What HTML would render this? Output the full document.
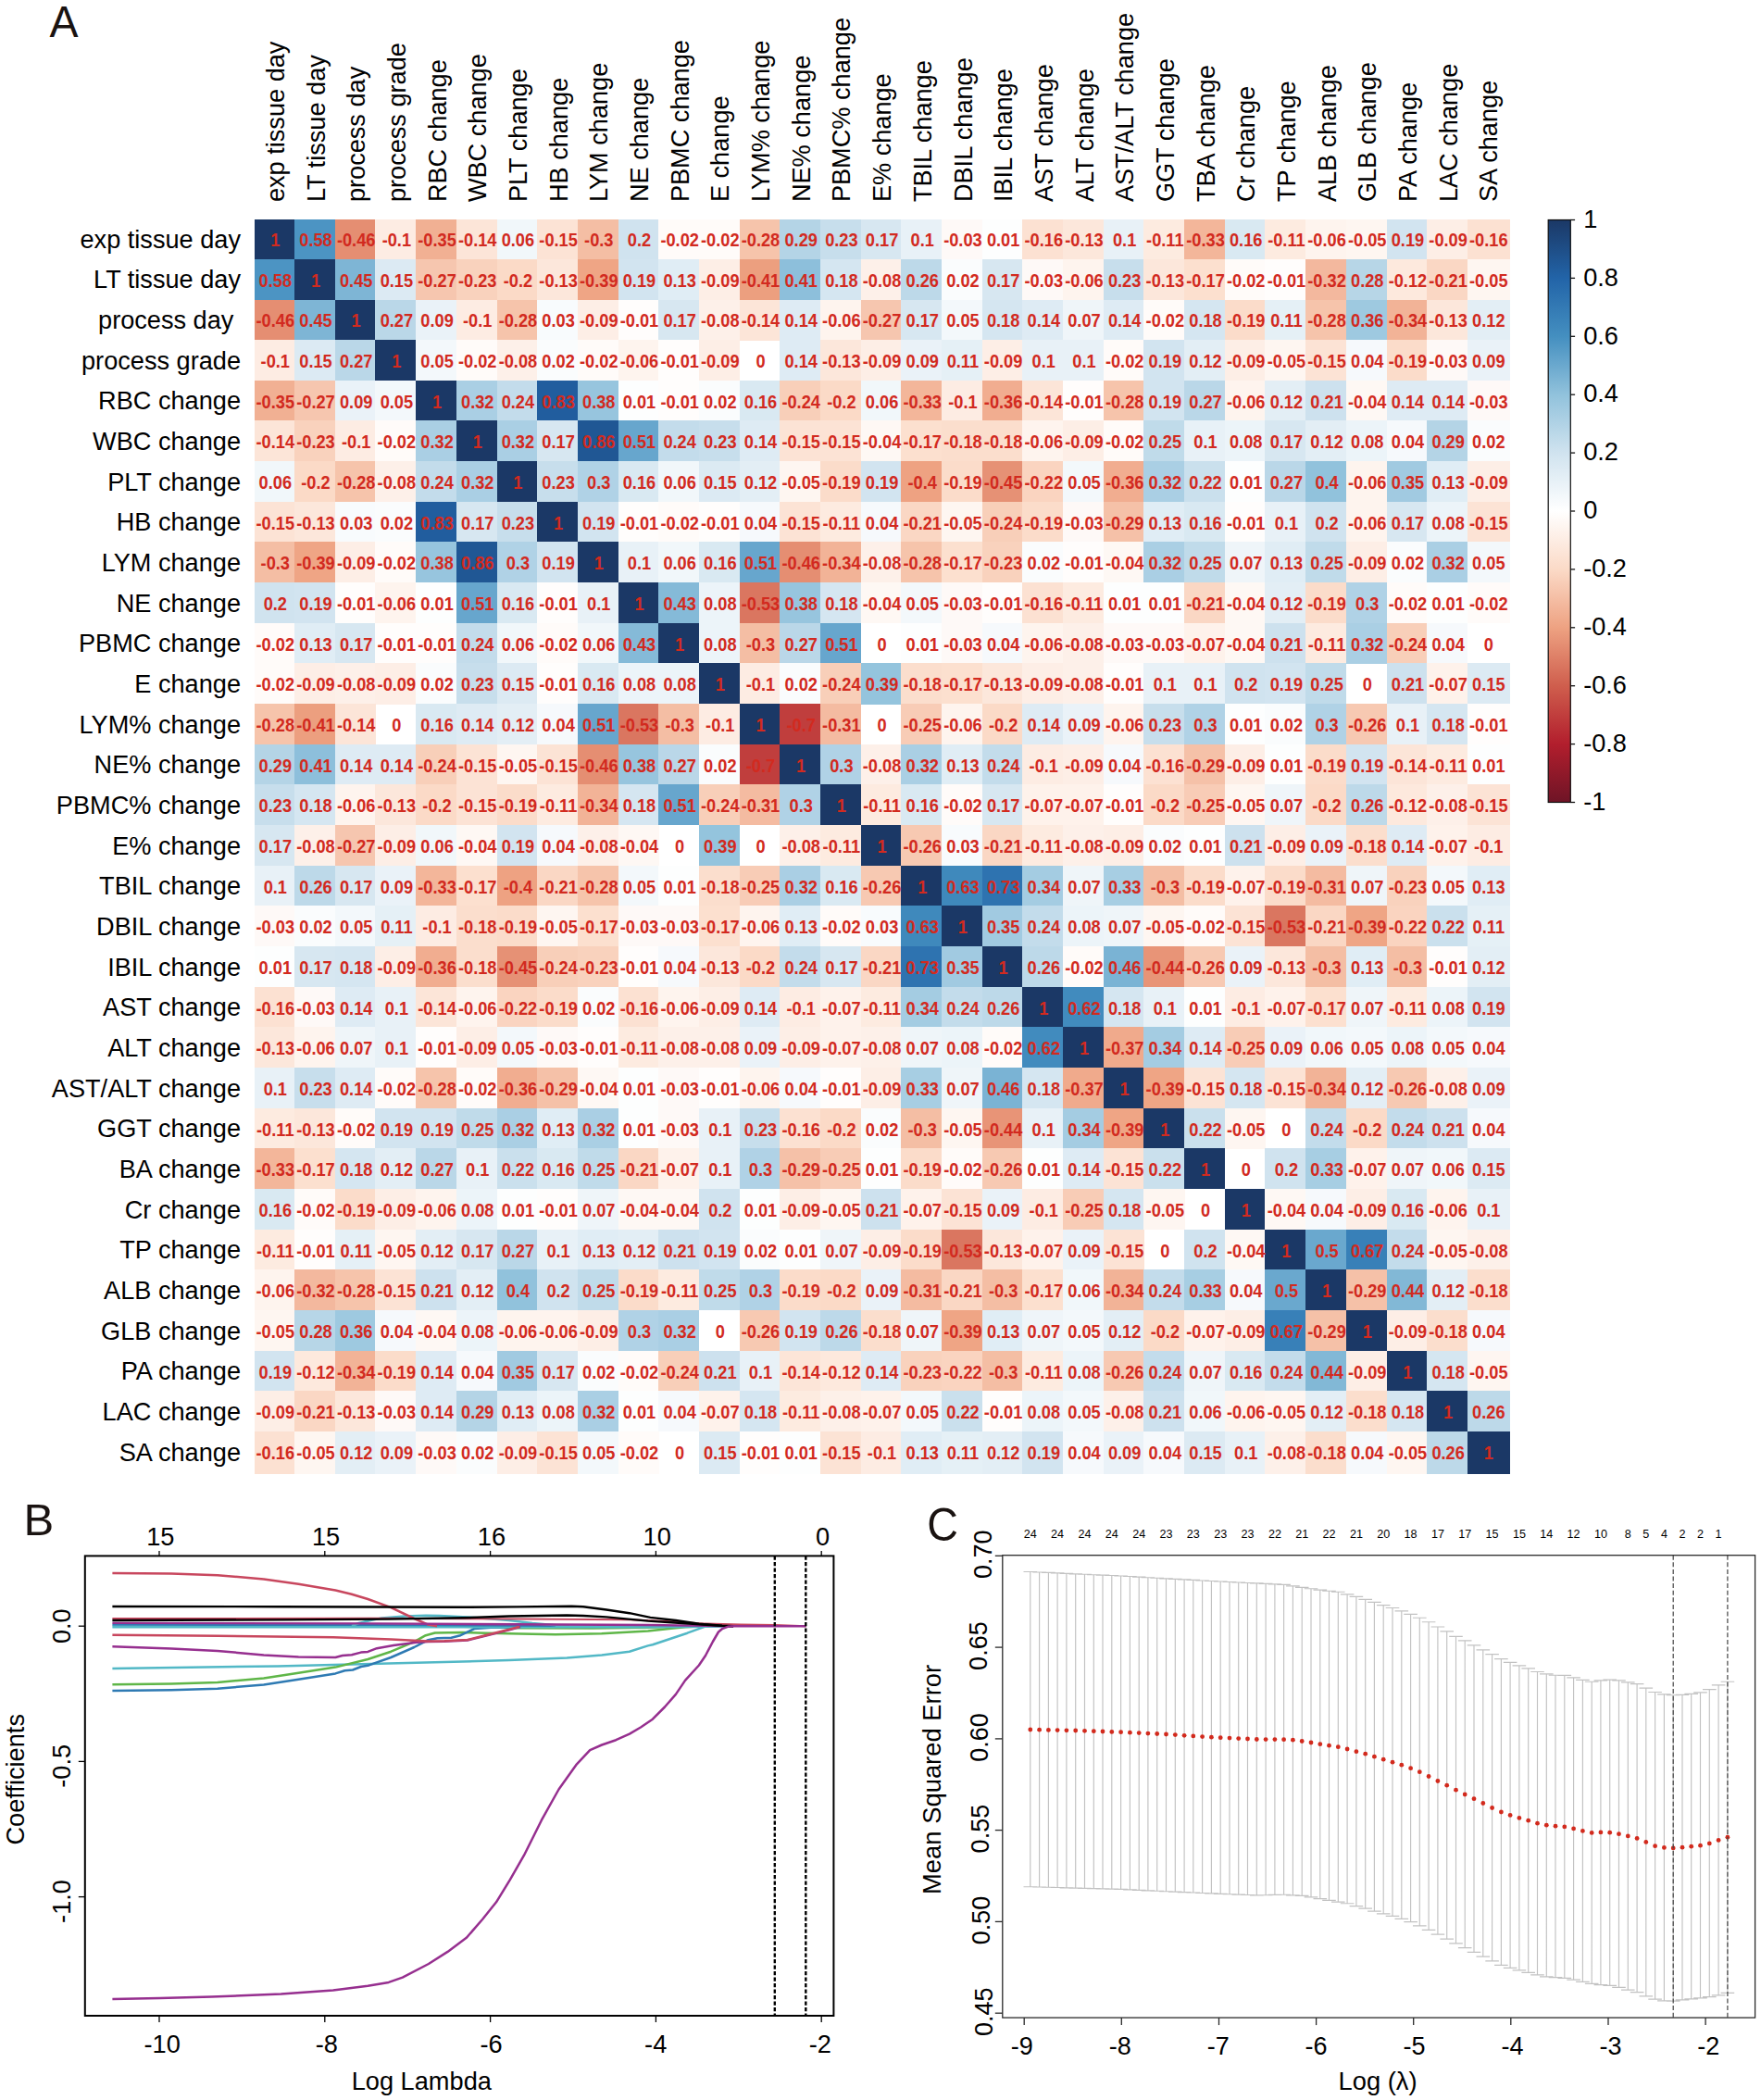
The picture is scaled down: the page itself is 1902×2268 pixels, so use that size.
<!DOCTYPE html>
<html lang="en"><head><meta charset="utf-8"><title>Figure: correlation heatmap and LASSO</title>
<style>html,body{margin:0;padding:0;background:#fff}body{width:1902px;height:2268px;overflow:hidden}text{white-space:pre}</style>
</head><body>
<svg width="1902" height="2268" viewBox="0 0 1902 2268" style="display:block">
<g id="heat" shape-rendering="crispEdges">
<rect x="274.90" y="236.60" width="43.60" height="43.65" fill="#1b3866"/>
<rect x="318.10" y="236.60" width="44.08" height="43.65" fill="#4c94c3"/>
<rect x="361.78" y="236.60" width="44.08" height="43.65" fill="#e58e72"/>
<rect x="405.47" y="236.60" width="44.08" height="43.65" fill="#fdece3"/>
<rect x="449.15" y="236.60" width="44.08" height="43.65" fill="#f1b093"/>
<rect x="492.83" y="236.60" width="44.08" height="43.65" fill="#fce5d8"/>
<rect x="536.51" y="236.60" width="44.08" height="43.65" fill="#f1f7fa"/>
<rect x="580.20" y="236.60" width="44.08" height="43.65" fill="#fce3d5"/>
<rect x="623.88" y="236.60" width="44.08" height="43.65" fill="#f4bea4"/>
<rect x="667.56" y="236.60" width="44.08" height="43.65" fill="#d0e3ef"/>
<rect x="711.25" y="236.60" width="44.08" height="43.65" fill="#fffbf9"/>
<rect x="754.93" y="236.60" width="44.08" height="43.65" fill="#fffbf9"/>
<rect x="798.61" y="236.60" width="44.08" height="43.65" fill="#f6c4ab"/>
<rect x="842.30" y="236.60" width="44.08" height="43.65" fill="#b4d4e6"/>
<rect x="885.98" y="236.60" width="44.08" height="43.65" fill="#c7deec"/>
<rect x="929.66" y="236.60" width="44.08" height="43.65" fill="#d7e7f1"/>
<rect x="973.35" y="236.60" width="44.08" height="43.65" fill="#e8f1f7"/>
<rect x="1017.03" y="236.60" width="44.08" height="43.65" fill="#fef9f7"/>
<rect x="1060.71" y="236.60" width="44.08" height="43.65" fill="#fdfefe"/>
<rect x="1104.39" y="236.60" width="44.08" height="43.65" fill="#fce1d2"/>
<rect x="1148.08" y="236.60" width="44.08" height="43.65" fill="#fce7db"/>
<rect x="1191.76" y="236.60" width="44.08" height="43.65" fill="#e8f1f7"/>
<rect x="1235.44" y="236.60" width="44.08" height="43.65" fill="#fdebe0"/>
<rect x="1279.13" y="236.60" width="44.08" height="43.65" fill="#f3b69a"/>
<rect x="1322.81" y="236.60" width="44.08" height="43.65" fill="#d9e9f2"/>
<rect x="1366.49" y="236.60" width="44.08" height="43.65" fill="#fdebe0"/>
<rect x="1410.18" y="236.60" width="44.08" height="43.65" fill="#fef4ee"/>
<rect x="1453.86" y="236.60" width="44.08" height="43.65" fill="#fef6f1"/>
<rect x="1497.54" y="236.60" width="44.08" height="43.65" fill="#d2e4f0"/>
<rect x="1541.22" y="236.60" width="44.08" height="43.65" fill="#fdeee6"/>
<rect x="1584.91" y="236.60" width="45.89" height="43.65" fill="#fce1d2"/>
<rect x="274.90" y="279.85" width="43.60" height="44.06" fill="#4c94c3"/>
<rect x="318.10" y="279.85" width="44.08" height="44.06" fill="#1b3866"/>
<rect x="361.78" y="279.85" width="44.08" height="44.06" fill="#7eb5d5"/>
<rect x="405.47" y="279.85" width="44.08" height="44.06" fill="#dceaf3"/>
<rect x="449.15" y="279.85" width="44.08" height="44.06" fill="#f6c6af"/>
<rect x="492.83" y="279.85" width="44.08" height="44.06" fill="#f9d2bd"/>
<rect x="536.51" y="279.85" width="44.08" height="44.06" fill="#fbdac7"/>
<rect x="580.20" y="279.85" width="44.08" height="44.06" fill="#fce7db"/>
<rect x="623.88" y="279.85" width="44.08" height="44.06" fill="#efa585"/>
<rect x="667.56" y="279.85" width="44.08" height="44.06" fill="#d2e4f0"/>
<rect x="711.25" y="279.85" width="44.08" height="44.06" fill="#e0edf5"/>
<rect x="754.93" y="279.85" width="44.08" height="44.06" fill="#fdeee6"/>
<rect x="798.61" y="279.85" width="44.08" height="44.06" fill="#ec9f7f"/>
<rect x="842.30" y="279.85" width="44.08" height="44.06" fill="#8dbfdb"/>
<rect x="885.98" y="279.85" width="44.08" height="44.06" fill="#d5e6f1"/>
<rect x="929.66" y="279.85" width="44.08" height="44.06" fill="#fdf0e9"/>
<rect x="973.35" y="279.85" width="44.08" height="44.06" fill="#bdd9e9"/>
<rect x="1017.03" y="279.85" width="44.08" height="44.06" fill="#fafcfd"/>
<rect x="1060.71" y="279.85" width="44.08" height="44.06" fill="#d7e7f1"/>
<rect x="1104.39" y="279.85" width="44.08" height="44.06" fill="#fef9f7"/>
<rect x="1148.08" y="279.85" width="44.08" height="44.06" fill="#fef4ee"/>
<rect x="1191.76" y="279.85" width="44.08" height="44.06" fill="#c7deec"/>
<rect x="1235.44" y="279.85" width="44.08" height="44.06" fill="#fce7db"/>
<rect x="1279.13" y="279.85" width="44.08" height="44.06" fill="#fce0cf"/>
<rect x="1322.81" y="279.85" width="44.08" height="44.06" fill="#fffbf9"/>
<rect x="1366.49" y="279.85" width="44.08" height="44.06" fill="#fffdfc"/>
<rect x="1410.18" y="279.85" width="44.08" height="44.06" fill="#f3b89e"/>
<rect x="1453.86" y="279.85" width="44.08" height="44.06" fill="#b7d6e7"/>
<rect x="1497.54" y="279.85" width="44.08" height="44.06" fill="#fde9dd"/>
<rect x="1541.22" y="279.85" width="44.08" height="44.06" fill="#fad7c4"/>
<rect x="1584.91" y="279.85" width="45.89" height="44.06" fill="#fef6f1"/>
<rect x="274.90" y="323.51" width="43.60" height="44.06" fill="#e58e72"/>
<rect x="318.10" y="323.51" width="44.08" height="44.06" fill="#7eb5d5"/>
<rect x="361.78" y="323.51" width="44.08" height="44.06" fill="#1b3866"/>
<rect x="405.47" y="323.51" width="44.08" height="44.06" fill="#bad7e8"/>
<rect x="449.15" y="323.51" width="44.08" height="44.06" fill="#eaf2f8"/>
<rect x="492.83" y="323.51" width="44.08" height="44.06" fill="#fdece3"/>
<rect x="536.51" y="323.51" width="44.08" height="44.06" fill="#f6c4ab"/>
<rect x="580.20" y="323.51" width="44.08" height="44.06" fill="#f8fbfd"/>
<rect x="623.88" y="323.51" width="44.08" height="44.06" fill="#fdeee6"/>
<rect x="667.56" y="323.51" width="44.08" height="44.06" fill="#fffdfc"/>
<rect x="711.25" y="323.51" width="44.08" height="44.06" fill="#d7e7f1"/>
<rect x="754.93" y="323.51" width="44.08" height="44.06" fill="#fdf0e9"/>
<rect x="798.61" y="323.51" width="44.08" height="44.06" fill="#fce5d8"/>
<rect x="842.30" y="323.51" width="44.08" height="44.06" fill="#deebf4"/>
<rect x="885.98" y="323.51" width="44.08" height="44.06" fill="#fef4ee"/>
<rect x="929.66" y="323.51" width="44.08" height="44.06" fill="#f6c6af"/>
<rect x="973.35" y="323.51" width="44.08" height="44.06" fill="#d7e7f1"/>
<rect x="1017.03" y="323.51" width="44.08" height="44.06" fill="#f3f8fb"/>
<rect x="1060.71" y="323.51" width="44.08" height="44.06" fill="#d5e6f1"/>
<rect x="1104.39" y="323.51" width="44.08" height="44.06" fill="#deebf4"/>
<rect x="1148.08" y="323.51" width="44.08" height="44.06" fill="#eff5f9"/>
<rect x="1191.76" y="323.51" width="44.08" height="44.06" fill="#deebf4"/>
<rect x="1235.44" y="323.51" width="44.08" height="44.06" fill="#fffbf9"/>
<rect x="1279.13" y="323.51" width="44.08" height="44.06" fill="#d5e6f1"/>
<rect x="1322.81" y="323.51" width="44.08" height="44.06" fill="#fbdcca"/>
<rect x="1366.49" y="323.51" width="44.08" height="44.06" fill="#e5f0f6"/>
<rect x="1410.18" y="323.51" width="44.08" height="44.06" fill="#f6c4ab"/>
<rect x="1453.86" y="323.51" width="44.08" height="44.06" fill="#9ec9e0"/>
<rect x="1497.54" y="323.51" width="44.08" height="44.06" fill="#f2b397"/>
<rect x="1541.22" y="323.51" width="44.08" height="44.06" fill="#fce7db"/>
<rect x="1584.91" y="323.51" width="45.89" height="44.06" fill="#e3eef5"/>
<rect x="274.90" y="367.17" width="43.60" height="44.06" fill="#fdece3"/>
<rect x="318.10" y="367.17" width="44.08" height="44.06" fill="#dceaf3"/>
<rect x="361.78" y="367.17" width="44.08" height="44.06" fill="#bad7e8"/>
<rect x="405.47" y="367.17" width="44.08" height="44.06" fill="#1b3866"/>
<rect x="449.15" y="367.17" width="44.08" height="44.06" fill="#f3f8fb"/>
<rect x="492.83" y="367.17" width="44.08" height="44.06" fill="#fffbf9"/>
<rect x="536.51" y="367.17" width="44.08" height="44.06" fill="#fdf0e9"/>
<rect x="580.20" y="367.17" width="44.08" height="44.06" fill="#fafcfd"/>
<rect x="623.88" y="367.17" width="44.08" height="44.06" fill="#fffbf9"/>
<rect x="667.56" y="367.17" width="44.08" height="44.06" fill="#fef4ee"/>
<rect x="711.25" y="367.17" width="44.08" height="44.06" fill="#fffdfc"/>
<rect x="754.93" y="367.17" width="44.08" height="44.06" fill="#fdeee6"/>
<rect x="842.30" y="367.17" width="44.08" height="44.06" fill="#deebf4"/>
<rect x="885.98" y="367.17" width="44.08" height="44.06" fill="#fce7db"/>
<rect x="929.66" y="367.17" width="44.08" height="44.06" fill="#fdeee6"/>
<rect x="973.35" y="367.17" width="44.08" height="44.06" fill="#eaf2f8"/>
<rect x="1017.03" y="367.17" width="44.08" height="44.06" fill="#e5f0f6"/>
<rect x="1060.71" y="367.17" width="44.08" height="44.06" fill="#fdeee6"/>
<rect x="1104.39" y="367.17" width="44.08" height="44.06" fill="#e8f1f7"/>
<rect x="1148.08" y="367.17" width="44.08" height="44.06" fill="#e8f1f7"/>
<rect x="1191.76" y="367.17" width="44.08" height="44.06" fill="#fffbf9"/>
<rect x="1235.44" y="367.17" width="44.08" height="44.06" fill="#d2e4f0"/>
<rect x="1279.13" y="367.17" width="44.08" height="44.06" fill="#e3eef5"/>
<rect x="1322.81" y="367.17" width="44.08" height="44.06" fill="#fdeee6"/>
<rect x="1366.49" y="367.17" width="44.08" height="44.06" fill="#fef6f1"/>
<rect x="1410.18" y="367.17" width="44.08" height="44.06" fill="#fce3d5"/>
<rect x="1453.86" y="367.17" width="44.08" height="44.06" fill="#f6f9fc"/>
<rect x="1497.54" y="367.17" width="44.08" height="44.06" fill="#fbdcca"/>
<rect x="1541.22" y="367.17" width="44.08" height="44.06" fill="#fef9f7"/>
<rect x="1584.91" y="367.17" width="45.89" height="44.06" fill="#eaf2f8"/>
<rect x="274.90" y="410.83" width="43.60" height="44.06" fill="#f1b093"/>
<rect x="318.10" y="410.83" width="44.08" height="44.06" fill="#f6c6af"/>
<rect x="361.78" y="410.83" width="44.08" height="44.06" fill="#eaf2f8"/>
<rect x="405.47" y="410.83" width="44.08" height="44.06" fill="#f3f8fb"/>
<rect x="449.15" y="410.83" width="44.08" height="44.06" fill="#1b3866"/>
<rect x="492.83" y="410.83" width="44.08" height="44.06" fill="#aacfe4"/>
<rect x="536.51" y="410.83" width="44.08" height="44.06" fill="#c3dceb"/>
<rect x="580.20" y="410.83" width="44.08" height="44.06" fill="#215d9e"/>
<rect x="623.88" y="410.83" width="44.08" height="44.06" fill="#97c5de"/>
<rect x="667.56" y="410.83" width="44.08" height="44.06" fill="#fdfefe"/>
<rect x="711.25" y="410.83" width="44.08" height="44.06" fill="#fffdfc"/>
<rect x="754.93" y="410.83" width="44.08" height="44.06" fill="#fafcfd"/>
<rect x="798.61" y="410.83" width="44.08" height="44.06" fill="#d9e9f2"/>
<rect x="842.30" y="410.83" width="44.08" height="44.06" fill="#f8cfb9"/>
<rect x="885.98" y="410.83" width="44.08" height="44.06" fill="#fbdac7"/>
<rect x="929.66" y="410.83" width="44.08" height="44.06" fill="#f1f7fa"/>
<rect x="973.35" y="410.83" width="44.08" height="44.06" fill="#f3b69a"/>
<rect x="1017.03" y="410.83" width="44.08" height="44.06" fill="#fdece3"/>
<rect x="1060.71" y="410.83" width="44.08" height="44.06" fill="#f1ad90"/>
<rect x="1104.39" y="410.83" width="44.08" height="44.06" fill="#fce5d8"/>
<rect x="1148.08" y="410.83" width="44.08" height="44.06" fill="#fffdfc"/>
<rect x="1191.76" y="410.83" width="44.08" height="44.06" fill="#f6c4ab"/>
<rect x="1235.44" y="410.83" width="44.08" height="44.06" fill="#d2e4f0"/>
<rect x="1279.13" y="410.83" width="44.08" height="44.06" fill="#bad7e8"/>
<rect x="1322.81" y="410.83" width="44.08" height="44.06" fill="#fef4ee"/>
<rect x="1366.49" y="410.83" width="44.08" height="44.06" fill="#e3eef5"/>
<rect x="1410.18" y="410.83" width="44.08" height="44.06" fill="#cde1ee"/>
<rect x="1453.86" y="410.83" width="44.08" height="44.06" fill="#fef8f4"/>
<rect x="1497.54" y="410.83" width="44.08" height="44.06" fill="#deebf4"/>
<rect x="1541.22" y="410.83" width="44.08" height="44.06" fill="#deebf4"/>
<rect x="1584.91" y="410.83" width="45.89" height="44.06" fill="#fef9f7"/>
<rect x="274.90" y="454.49" width="43.60" height="44.06" fill="#fce5d8"/>
<rect x="318.10" y="454.49" width="44.08" height="44.06" fill="#f9d2bd"/>
<rect x="361.78" y="454.49" width="44.08" height="44.06" fill="#fdece3"/>
<rect x="405.47" y="454.49" width="44.08" height="44.06" fill="#fffbf9"/>
<rect x="449.15" y="454.49" width="44.08" height="44.06" fill="#aacfe4"/>
<rect x="492.83" y="454.49" width="44.08" height="44.06" fill="#1b3866"/>
<rect x="536.51" y="454.49" width="44.08" height="44.06" fill="#aacfe4"/>
<rect x="580.20" y="454.49" width="44.08" height="44.06" fill="#d7e7f1"/>
<rect x="623.88" y="454.49" width="44.08" height="44.06" fill="#205794"/>
<rect x="667.56" y="454.49" width="44.08" height="44.06" fill="#67a6cd"/>
<rect x="711.25" y="454.49" width="44.08" height="44.06" fill="#c3dceb"/>
<rect x="754.93" y="454.49" width="44.08" height="44.06" fill="#c7deec"/>
<rect x="798.61" y="454.49" width="44.08" height="44.06" fill="#deebf4"/>
<rect x="842.30" y="454.49" width="44.08" height="44.06" fill="#fce3d5"/>
<rect x="885.98" y="454.49" width="44.08" height="44.06" fill="#fce3d5"/>
<rect x="929.66" y="454.49" width="44.08" height="44.06" fill="#fef8f4"/>
<rect x="973.35" y="454.49" width="44.08" height="44.06" fill="#fce0cf"/>
<rect x="1017.03" y="454.49" width="44.08" height="44.06" fill="#fbdecd"/>
<rect x="1060.71" y="454.49" width="44.08" height="44.06" fill="#fbdecd"/>
<rect x="1104.39" y="454.49" width="44.08" height="44.06" fill="#fef4ee"/>
<rect x="1148.08" y="454.49" width="44.08" height="44.06" fill="#fdeee6"/>
<rect x="1191.76" y="454.49" width="44.08" height="44.06" fill="#fffbf9"/>
<rect x="1235.44" y="454.49" width="44.08" height="44.06" fill="#c0dbea"/>
<rect x="1279.13" y="454.49" width="44.08" height="44.06" fill="#e8f1f7"/>
<rect x="1322.81" y="454.49" width="44.08" height="44.06" fill="#ecf4f9"/>
<rect x="1366.49" y="454.49" width="44.08" height="44.06" fill="#d7e7f1"/>
<rect x="1410.18" y="454.49" width="44.08" height="44.06" fill="#e3eef5"/>
<rect x="1453.86" y="454.49" width="44.08" height="44.06" fill="#ecf4f9"/>
<rect x="1497.54" y="454.49" width="44.08" height="44.06" fill="#f6f9fc"/>
<rect x="1541.22" y="454.49" width="44.08" height="44.06" fill="#b4d4e6"/>
<rect x="1584.91" y="454.49" width="45.89" height="44.06" fill="#fafcfd"/>
<rect x="274.90" y="498.15" width="43.60" height="44.06" fill="#f1f7fa"/>
<rect x="318.10" y="498.15" width="44.08" height="44.06" fill="#fbdac7"/>
<rect x="361.78" y="498.15" width="44.08" height="44.06" fill="#f6c4ab"/>
<rect x="405.47" y="498.15" width="44.08" height="44.06" fill="#fdf0e9"/>
<rect x="449.15" y="498.15" width="44.08" height="44.06" fill="#c3dceb"/>
<rect x="492.83" y="498.15" width="44.08" height="44.06" fill="#aacfe4"/>
<rect x="536.51" y="498.15" width="44.08" height="44.06" fill="#1b3866"/>
<rect x="580.20" y="498.15" width="44.08" height="44.06" fill="#c7deec"/>
<rect x="623.88" y="498.15" width="44.08" height="44.06" fill="#b0d2e6"/>
<rect x="667.56" y="498.15" width="44.08" height="44.06" fill="#d9e9f2"/>
<rect x="711.25" y="498.15" width="44.08" height="44.06" fill="#f1f7fa"/>
<rect x="754.93" y="498.15" width="44.08" height="44.06" fill="#dceaf3"/>
<rect x="798.61" y="498.15" width="44.08" height="44.06" fill="#e3eef5"/>
<rect x="842.30" y="498.15" width="44.08" height="44.06" fill="#fef6f1"/>
<rect x="885.98" y="498.15" width="44.08" height="44.06" fill="#fbdcca"/>
<rect x="929.66" y="498.15" width="44.08" height="44.06" fill="#d2e4f0"/>
<rect x="973.35" y="498.15" width="44.08" height="44.06" fill="#eea282"/>
<rect x="1017.03" y="498.15" width="44.08" height="44.06" fill="#fbdcca"/>
<rect x="1060.71" y="498.15" width="44.08" height="44.06" fill="#e69175"/>
<rect x="1104.39" y="498.15" width="44.08" height="44.06" fill="#fad4c0"/>
<rect x="1148.08" y="498.15" width="44.08" height="44.06" fill="#f3f8fb"/>
<rect x="1191.76" y="498.15" width="44.08" height="44.06" fill="#f1ad90"/>
<rect x="1235.44" y="498.15" width="44.08" height="44.06" fill="#aacfe4"/>
<rect x="1279.13" y="498.15" width="44.08" height="44.06" fill="#cae0ed"/>
<rect x="1322.81" y="498.15" width="44.08" height="44.06" fill="#fdfefe"/>
<rect x="1366.49" y="498.15" width="44.08" height="44.06" fill="#bad7e8"/>
<rect x="1410.18" y="498.15" width="44.08" height="44.06" fill="#91c2dc"/>
<rect x="1453.86" y="498.15" width="44.08" height="44.06" fill="#fef4ee"/>
<rect x="1497.54" y="498.15" width="44.08" height="44.06" fill="#a1cae1"/>
<rect x="1541.22" y="498.15" width="44.08" height="44.06" fill="#e0edf5"/>
<rect x="1584.91" y="498.15" width="45.89" height="44.06" fill="#fdeee6"/>
<rect x="274.90" y="541.81" width="43.60" height="44.06" fill="#fce3d5"/>
<rect x="318.10" y="541.81" width="44.08" height="44.06" fill="#fce7db"/>
<rect x="361.78" y="541.81" width="44.08" height="44.06" fill="#f8fbfd"/>
<rect x="405.47" y="541.81" width="44.08" height="44.06" fill="#fafcfd"/>
<rect x="449.15" y="541.81" width="44.08" height="44.06" fill="#215d9e"/>
<rect x="492.83" y="541.81" width="44.08" height="44.06" fill="#d7e7f1"/>
<rect x="536.51" y="541.81" width="44.08" height="44.06" fill="#c7deec"/>
<rect x="580.20" y="541.81" width="44.08" height="44.06" fill="#1b3866"/>
<rect x="623.88" y="541.81" width="44.08" height="44.06" fill="#d2e4f0"/>
<rect x="667.56" y="541.81" width="44.08" height="44.06" fill="#fffdfc"/>
<rect x="711.25" y="541.81" width="44.08" height="44.06" fill="#fffbf9"/>
<rect x="754.93" y="541.81" width="44.08" height="44.06" fill="#fffdfc"/>
<rect x="798.61" y="541.81" width="44.08" height="44.06" fill="#f6f9fc"/>
<rect x="842.30" y="541.81" width="44.08" height="44.06" fill="#fce3d5"/>
<rect x="885.98" y="541.81" width="44.08" height="44.06" fill="#fdebe0"/>
<rect x="929.66" y="541.81" width="44.08" height="44.06" fill="#f6f9fc"/>
<rect x="973.35" y="541.81" width="44.08" height="44.06" fill="#fad7c4"/>
<rect x="1017.03" y="541.81" width="44.08" height="44.06" fill="#fef6f1"/>
<rect x="1060.71" y="541.81" width="44.08" height="44.06" fill="#f8cfb9"/>
<rect x="1104.39" y="541.81" width="44.08" height="44.06" fill="#fbdcca"/>
<rect x="1148.08" y="541.81" width="44.08" height="44.06" fill="#fef9f7"/>
<rect x="1191.76" y="541.81" width="44.08" height="44.06" fill="#f5c1a8"/>
<rect x="1235.44" y="541.81" width="44.08" height="44.06" fill="#e0edf5"/>
<rect x="1279.13" y="541.81" width="44.08" height="44.06" fill="#d9e9f2"/>
<rect x="1322.81" y="541.81" width="44.08" height="44.06" fill="#fffdfc"/>
<rect x="1366.49" y="541.81" width="44.08" height="44.06" fill="#e8f1f7"/>
<rect x="1410.18" y="541.81" width="44.08" height="44.06" fill="#d0e3ef"/>
<rect x="1453.86" y="541.81" width="44.08" height="44.06" fill="#fef4ee"/>
<rect x="1497.54" y="541.81" width="44.08" height="44.06" fill="#d7e7f1"/>
<rect x="1541.22" y="541.81" width="44.08" height="44.06" fill="#ecf4f9"/>
<rect x="1584.91" y="541.81" width="45.89" height="44.06" fill="#fce3d5"/>
<rect x="274.90" y="585.47" width="43.60" height="44.06" fill="#f4bea4"/>
<rect x="318.10" y="585.47" width="44.08" height="44.06" fill="#efa585"/>
<rect x="361.78" y="585.47" width="44.08" height="44.06" fill="#fdeee6"/>
<rect x="405.47" y="585.47" width="44.08" height="44.06" fill="#fffbf9"/>
<rect x="449.15" y="585.47" width="44.08" height="44.06" fill="#97c5de"/>
<rect x="492.83" y="585.47" width="44.08" height="44.06" fill="#205794"/>
<rect x="536.51" y="585.47" width="44.08" height="44.06" fill="#b0d2e6"/>
<rect x="580.20" y="585.47" width="44.08" height="44.06" fill="#d2e4f0"/>
<rect x="623.88" y="585.47" width="44.08" height="44.06" fill="#1b3866"/>
<rect x="667.56" y="585.47" width="44.08" height="44.06" fill="#e8f1f7"/>
<rect x="711.25" y="585.47" width="44.08" height="44.06" fill="#f1f7fa"/>
<rect x="754.93" y="585.47" width="44.08" height="44.06" fill="#d9e9f2"/>
<rect x="798.61" y="585.47" width="44.08" height="44.06" fill="#67a6cd"/>
<rect x="842.30" y="585.47" width="44.08" height="44.06" fill="#e58e72"/>
<rect x="885.98" y="585.47" width="44.08" height="44.06" fill="#f2b397"/>
<rect x="929.66" y="585.47" width="44.08" height="44.06" fill="#fdf0e9"/>
<rect x="973.35" y="585.47" width="44.08" height="44.06" fill="#f6c4ab"/>
<rect x="1017.03" y="585.47" width="44.08" height="44.06" fill="#fce0cf"/>
<rect x="1060.71" y="585.47" width="44.08" height="44.06" fill="#f9d2bd"/>
<rect x="1104.39" y="585.47" width="44.08" height="44.06" fill="#fafcfd"/>
<rect x="1148.08" y="585.47" width="44.08" height="44.06" fill="#fffdfc"/>
<rect x="1191.76" y="585.47" width="44.08" height="44.06" fill="#fef8f4"/>
<rect x="1235.44" y="585.47" width="44.08" height="44.06" fill="#aacfe4"/>
<rect x="1279.13" y="585.47" width="44.08" height="44.06" fill="#c0dbea"/>
<rect x="1322.81" y="585.47" width="44.08" height="44.06" fill="#eff5f9"/>
<rect x="1366.49" y="585.47" width="44.08" height="44.06" fill="#e0edf5"/>
<rect x="1410.18" y="585.47" width="44.08" height="44.06" fill="#c0dbea"/>
<rect x="1453.86" y="585.47" width="44.08" height="44.06" fill="#fdeee6"/>
<rect x="1497.54" y="585.47" width="44.08" height="44.06" fill="#fafcfd"/>
<rect x="1541.22" y="585.47" width="44.08" height="44.06" fill="#aacfe4"/>
<rect x="1584.91" y="585.47" width="45.89" height="44.06" fill="#f3f8fb"/>
<rect x="274.90" y="629.13" width="43.60" height="44.06" fill="#d0e3ef"/>
<rect x="318.10" y="629.13" width="44.08" height="44.06" fill="#d2e4f0"/>
<rect x="361.78" y="629.13" width="44.08" height="44.06" fill="#fffdfc"/>
<rect x="405.47" y="629.13" width="44.08" height="44.06" fill="#fef4ee"/>
<rect x="449.15" y="629.13" width="44.08" height="44.06" fill="#fdfefe"/>
<rect x="492.83" y="629.13" width="44.08" height="44.06" fill="#67a6cd"/>
<rect x="536.51" y="629.13" width="44.08" height="44.06" fill="#d9e9f2"/>
<rect x="580.20" y="629.13" width="44.08" height="44.06" fill="#fffdfc"/>
<rect x="623.88" y="629.13" width="44.08" height="44.06" fill="#e8f1f7"/>
<rect x="667.56" y="629.13" width="44.08" height="44.06" fill="#1b3866"/>
<rect x="711.25" y="629.13" width="44.08" height="44.06" fill="#85bad8"/>
<rect x="754.93" y="629.13" width="44.08" height="44.06" fill="#ecf4f9"/>
<rect x="798.61" y="629.13" width="44.08" height="44.06" fill="#da7660"/>
<rect x="842.30" y="629.13" width="44.08" height="44.06" fill="#97c5de"/>
<rect x="885.98" y="629.13" width="44.08" height="44.06" fill="#d5e6f1"/>
<rect x="929.66" y="629.13" width="44.08" height="44.06" fill="#fef8f4"/>
<rect x="973.35" y="629.13" width="44.08" height="44.06" fill="#f3f8fb"/>
<rect x="1017.03" y="629.13" width="44.08" height="44.06" fill="#fef9f7"/>
<rect x="1060.71" y="629.13" width="44.08" height="44.06" fill="#fffdfc"/>
<rect x="1104.39" y="629.13" width="44.08" height="44.06" fill="#fce1d2"/>
<rect x="1148.08" y="629.13" width="44.08" height="44.06" fill="#fdebe0"/>
<rect x="1191.76" y="629.13" width="44.08" height="44.06" fill="#fdfefe"/>
<rect x="1235.44" y="629.13" width="44.08" height="44.06" fill="#fdfefe"/>
<rect x="1279.13" y="629.13" width="44.08" height="44.06" fill="#fad7c4"/>
<rect x="1322.81" y="629.13" width="44.08" height="44.06" fill="#fef8f4"/>
<rect x="1366.49" y="629.13" width="44.08" height="44.06" fill="#e3eef5"/>
<rect x="1410.18" y="629.13" width="44.08" height="44.06" fill="#fbdcca"/>
<rect x="1453.86" y="629.13" width="44.08" height="44.06" fill="#b0d2e6"/>
<rect x="1497.54" y="629.13" width="44.08" height="44.06" fill="#fffbf9"/>
<rect x="1541.22" y="629.13" width="44.08" height="44.06" fill="#fdfefe"/>
<rect x="1584.91" y="629.13" width="45.89" height="44.06" fill="#fffbf9"/>
<rect x="274.90" y="672.79" width="43.60" height="44.06" fill="#fffbf9"/>
<rect x="318.10" y="672.79" width="44.08" height="44.06" fill="#e0edf5"/>
<rect x="361.78" y="672.79" width="44.08" height="44.06" fill="#d7e7f1"/>
<rect x="405.47" y="672.79" width="44.08" height="44.06" fill="#fffdfc"/>
<rect x="449.15" y="672.79" width="44.08" height="44.06" fill="#fffdfc"/>
<rect x="492.83" y="672.79" width="44.08" height="44.06" fill="#c3dceb"/>
<rect x="536.51" y="672.79" width="44.08" height="44.06" fill="#f1f7fa"/>
<rect x="580.20" y="672.79" width="44.08" height="44.06" fill="#fffbf9"/>
<rect x="623.88" y="672.79" width="44.08" height="44.06" fill="#f1f7fa"/>
<rect x="667.56" y="672.79" width="44.08" height="44.06" fill="#85bad8"/>
<rect x="711.25" y="672.79" width="44.08" height="44.06" fill="#1b3866"/>
<rect x="754.93" y="672.79" width="44.08" height="44.06" fill="#ecf4f9"/>
<rect x="798.61" y="672.79" width="44.08" height="44.06" fill="#f4bea4"/>
<rect x="842.30" y="672.79" width="44.08" height="44.06" fill="#bad7e8"/>
<rect x="885.98" y="672.79" width="44.08" height="44.06" fill="#67a6cd"/>
<rect x="973.35" y="672.79" width="44.08" height="44.06" fill="#fdfefe"/>
<rect x="1017.03" y="672.79" width="44.08" height="44.06" fill="#fef9f7"/>
<rect x="1060.71" y="672.79" width="44.08" height="44.06" fill="#f6f9fc"/>
<rect x="1104.39" y="672.79" width="44.08" height="44.06" fill="#fef4ee"/>
<rect x="1148.08" y="672.79" width="44.08" height="44.06" fill="#fdf0e9"/>
<rect x="1191.76" y="672.79" width="44.08" height="44.06" fill="#fef9f7"/>
<rect x="1235.44" y="672.79" width="44.08" height="44.06" fill="#fef9f7"/>
<rect x="1279.13" y="672.79" width="44.08" height="44.06" fill="#fef2eb"/>
<rect x="1322.81" y="672.79" width="44.08" height="44.06" fill="#fef8f4"/>
<rect x="1366.49" y="672.79" width="44.08" height="44.06" fill="#cde1ee"/>
<rect x="1410.18" y="672.79" width="44.08" height="44.06" fill="#fdebe0"/>
<rect x="1453.86" y="672.79" width="44.08" height="44.06" fill="#aacfe4"/>
<rect x="1497.54" y="672.79" width="44.08" height="44.06" fill="#f8cfb9"/>
<rect x="1541.22" y="672.79" width="44.08" height="44.06" fill="#f6f9fc"/>
<rect x="274.90" y="716.45" width="43.60" height="44.06" fill="#fffbf9"/>
<rect x="318.10" y="716.45" width="44.08" height="44.06" fill="#fdeee6"/>
<rect x="361.78" y="716.45" width="44.08" height="44.06" fill="#fdf0e9"/>
<rect x="405.47" y="716.45" width="44.08" height="44.06" fill="#fdeee6"/>
<rect x="449.15" y="716.45" width="44.08" height="44.06" fill="#fafcfd"/>
<rect x="492.83" y="716.45" width="44.08" height="44.06" fill="#c7deec"/>
<rect x="536.51" y="716.45" width="44.08" height="44.06" fill="#dceaf3"/>
<rect x="580.20" y="716.45" width="44.08" height="44.06" fill="#fffdfc"/>
<rect x="623.88" y="716.45" width="44.08" height="44.06" fill="#d9e9f2"/>
<rect x="667.56" y="716.45" width="44.08" height="44.06" fill="#ecf4f9"/>
<rect x="711.25" y="716.45" width="44.08" height="44.06" fill="#ecf4f9"/>
<rect x="754.93" y="716.45" width="44.08" height="44.06" fill="#1b3866"/>
<rect x="798.61" y="716.45" width="44.08" height="44.06" fill="#fdece3"/>
<rect x="842.30" y="716.45" width="44.08" height="44.06" fill="#fafcfd"/>
<rect x="885.98" y="716.45" width="44.08" height="44.06" fill="#f8cfb9"/>
<rect x="929.66" y="716.45" width="44.08" height="44.06" fill="#94c4dd"/>
<rect x="973.35" y="716.45" width="44.08" height="44.06" fill="#fbdecd"/>
<rect x="1017.03" y="716.45" width="44.08" height="44.06" fill="#fce0cf"/>
<rect x="1060.71" y="716.45" width="44.08" height="44.06" fill="#fce7db"/>
<rect x="1104.39" y="716.45" width="44.08" height="44.06" fill="#fdeee6"/>
<rect x="1148.08" y="716.45" width="44.08" height="44.06" fill="#fdf0e9"/>
<rect x="1191.76" y="716.45" width="44.08" height="44.06" fill="#fffdfc"/>
<rect x="1235.44" y="716.45" width="44.08" height="44.06" fill="#e8f1f7"/>
<rect x="1279.13" y="716.45" width="44.08" height="44.06" fill="#e8f1f7"/>
<rect x="1322.81" y="716.45" width="44.08" height="44.06" fill="#d0e3ef"/>
<rect x="1366.49" y="716.45" width="44.08" height="44.06" fill="#d2e4f0"/>
<rect x="1410.18" y="716.45" width="44.08" height="44.06" fill="#c0dbea"/>
<rect x="1497.54" y="716.45" width="44.08" height="44.06" fill="#cde1ee"/>
<rect x="1541.22" y="716.45" width="44.08" height="44.06" fill="#fef2eb"/>
<rect x="1584.91" y="716.45" width="45.89" height="44.06" fill="#dceaf3"/>
<rect x="274.90" y="760.11" width="43.60" height="44.06" fill="#f6c4ab"/>
<rect x="318.10" y="760.11" width="44.08" height="44.06" fill="#ec9f7f"/>
<rect x="361.78" y="760.11" width="44.08" height="44.06" fill="#fce5d8"/>
<rect x="449.15" y="760.11" width="44.08" height="44.06" fill="#d9e9f2"/>
<rect x="492.83" y="760.11" width="44.08" height="44.06" fill="#deebf4"/>
<rect x="536.51" y="760.11" width="44.08" height="44.06" fill="#e3eef5"/>
<rect x="580.20" y="760.11" width="44.08" height="44.06" fill="#f6f9fc"/>
<rect x="623.88" y="760.11" width="44.08" height="44.06" fill="#67a6cd"/>
<rect x="667.56" y="760.11" width="44.08" height="44.06" fill="#da7660"/>
<rect x="711.25" y="760.11" width="44.08" height="44.06" fill="#f4bea4"/>
<rect x="754.93" y="760.11" width="44.08" height="44.06" fill="#fdece3"/>
<rect x="798.61" y="760.11" width="44.08" height="44.06" fill="#1b3866"/>
<rect x="842.30" y="760.11" width="44.08" height="44.06" fill="#c03e3d"/>
<rect x="885.98" y="760.11" width="44.08" height="44.06" fill="#f4bba1"/>
<rect x="973.35" y="760.11" width="44.08" height="44.06" fill="#f8ccb6"/>
<rect x="1017.03" y="760.11" width="44.08" height="44.06" fill="#fef4ee"/>
<rect x="1060.71" y="760.11" width="44.08" height="44.06" fill="#fbdac7"/>
<rect x="1104.39" y="760.11" width="44.08" height="44.06" fill="#deebf4"/>
<rect x="1148.08" y="760.11" width="44.08" height="44.06" fill="#eaf2f8"/>
<rect x="1191.76" y="760.11" width="44.08" height="44.06" fill="#fef4ee"/>
<rect x="1235.44" y="760.11" width="44.08" height="44.06" fill="#c7deec"/>
<rect x="1279.13" y="760.11" width="44.08" height="44.06" fill="#b0d2e6"/>
<rect x="1322.81" y="760.11" width="44.08" height="44.06" fill="#fdfefe"/>
<rect x="1366.49" y="760.11" width="44.08" height="44.06" fill="#fafcfd"/>
<rect x="1410.18" y="760.11" width="44.08" height="44.06" fill="#b0d2e6"/>
<rect x="1453.86" y="760.11" width="44.08" height="44.06" fill="#f7c9b2"/>
<rect x="1497.54" y="760.11" width="44.08" height="44.06" fill="#e8f1f7"/>
<rect x="1541.22" y="760.11" width="44.08" height="44.06" fill="#d5e6f1"/>
<rect x="1584.91" y="760.11" width="45.89" height="44.06" fill="#fffdfc"/>
<rect x="274.90" y="803.77" width="43.60" height="44.06" fill="#b4d4e6"/>
<rect x="318.10" y="803.77" width="44.08" height="44.06" fill="#8dbfdb"/>
<rect x="361.78" y="803.77" width="44.08" height="44.06" fill="#deebf4"/>
<rect x="405.47" y="803.77" width="44.08" height="44.06" fill="#deebf4"/>
<rect x="449.15" y="803.77" width="44.08" height="44.06" fill="#f8cfb9"/>
<rect x="492.83" y="803.77" width="44.08" height="44.06" fill="#fce3d5"/>
<rect x="536.51" y="803.77" width="44.08" height="44.06" fill="#fef6f1"/>
<rect x="580.20" y="803.77" width="44.08" height="44.06" fill="#fce3d5"/>
<rect x="623.88" y="803.77" width="44.08" height="44.06" fill="#e58e72"/>
<rect x="667.56" y="803.77" width="44.08" height="44.06" fill="#97c5de"/>
<rect x="711.25" y="803.77" width="44.08" height="44.06" fill="#bad7e8"/>
<rect x="754.93" y="803.77" width="44.08" height="44.06" fill="#fafcfd"/>
<rect x="798.61" y="803.77" width="44.08" height="44.06" fill="#c03e3d"/>
<rect x="842.30" y="803.77" width="44.08" height="44.06" fill="#1b3866"/>
<rect x="885.98" y="803.77" width="44.08" height="44.06" fill="#b0d2e6"/>
<rect x="929.66" y="803.77" width="44.08" height="44.06" fill="#fdf0e9"/>
<rect x="973.35" y="803.77" width="44.08" height="44.06" fill="#aacfe4"/>
<rect x="1017.03" y="803.77" width="44.08" height="44.06" fill="#e0edf5"/>
<rect x="1060.71" y="803.77" width="44.08" height="44.06" fill="#c3dceb"/>
<rect x="1104.39" y="803.77" width="44.08" height="44.06" fill="#fdece3"/>
<rect x="1148.08" y="803.77" width="44.08" height="44.06" fill="#fdeee6"/>
<rect x="1191.76" y="803.77" width="44.08" height="44.06" fill="#f6f9fc"/>
<rect x="1235.44" y="803.77" width="44.08" height="44.06" fill="#fce1d2"/>
<rect x="1279.13" y="803.77" width="44.08" height="44.06" fill="#f5c1a8"/>
<rect x="1322.81" y="803.77" width="44.08" height="44.06" fill="#fdeee6"/>
<rect x="1366.49" y="803.77" width="44.08" height="44.06" fill="#fdfefe"/>
<rect x="1410.18" y="803.77" width="44.08" height="44.06" fill="#fbdcca"/>
<rect x="1453.86" y="803.77" width="44.08" height="44.06" fill="#d2e4f0"/>
<rect x="1497.54" y="803.77" width="44.08" height="44.06" fill="#fce5d8"/>
<rect x="1541.22" y="803.77" width="44.08" height="44.06" fill="#fdebe0"/>
<rect x="1584.91" y="803.77" width="45.89" height="44.06" fill="#fdfefe"/>
<rect x="274.90" y="847.43" width="43.60" height="44.06" fill="#c7deec"/>
<rect x="318.10" y="847.43" width="44.08" height="44.06" fill="#d5e6f1"/>
<rect x="361.78" y="847.43" width="44.08" height="44.06" fill="#fef4ee"/>
<rect x="405.47" y="847.43" width="44.08" height="44.06" fill="#fce7db"/>
<rect x="449.15" y="847.43" width="44.08" height="44.06" fill="#fbdac7"/>
<rect x="492.83" y="847.43" width="44.08" height="44.06" fill="#fce3d5"/>
<rect x="536.51" y="847.43" width="44.08" height="44.06" fill="#fbdcca"/>
<rect x="580.20" y="847.43" width="44.08" height="44.06" fill="#fdebe0"/>
<rect x="623.88" y="847.43" width="44.08" height="44.06" fill="#f2b397"/>
<rect x="667.56" y="847.43" width="44.08" height="44.06" fill="#d5e6f1"/>
<rect x="711.25" y="847.43" width="44.08" height="44.06" fill="#67a6cd"/>
<rect x="754.93" y="847.43" width="44.08" height="44.06" fill="#f8cfb9"/>
<rect x="798.61" y="847.43" width="44.08" height="44.06" fill="#f4bba1"/>
<rect x="842.30" y="847.43" width="44.08" height="44.06" fill="#b0d2e6"/>
<rect x="885.98" y="847.43" width="44.08" height="44.06" fill="#1b3866"/>
<rect x="929.66" y="847.43" width="44.08" height="44.06" fill="#fdebe0"/>
<rect x="973.35" y="847.43" width="44.08" height="44.06" fill="#d9e9f2"/>
<rect x="1017.03" y="847.43" width="44.08" height="44.06" fill="#fffbf9"/>
<rect x="1060.71" y="847.43" width="44.08" height="44.06" fill="#d7e7f1"/>
<rect x="1104.39" y="847.43" width="44.08" height="44.06" fill="#fef2eb"/>
<rect x="1148.08" y="847.43" width="44.08" height="44.06" fill="#fef2eb"/>
<rect x="1191.76" y="847.43" width="44.08" height="44.06" fill="#fffdfc"/>
<rect x="1235.44" y="847.43" width="44.08" height="44.06" fill="#fbdac7"/>
<rect x="1279.13" y="847.43" width="44.08" height="44.06" fill="#f8ccb6"/>
<rect x="1322.81" y="847.43" width="44.08" height="44.06" fill="#fef6f1"/>
<rect x="1366.49" y="847.43" width="44.08" height="44.06" fill="#eff5f9"/>
<rect x="1410.18" y="847.43" width="44.08" height="44.06" fill="#fbdac7"/>
<rect x="1453.86" y="847.43" width="44.08" height="44.06" fill="#bdd9e9"/>
<rect x="1497.54" y="847.43" width="44.08" height="44.06" fill="#fde9dd"/>
<rect x="1541.22" y="847.43" width="44.08" height="44.06" fill="#fdf0e9"/>
<rect x="1584.91" y="847.43" width="45.89" height="44.06" fill="#fce3d5"/>
<rect x="274.90" y="891.09" width="43.60" height="44.06" fill="#d7e7f1"/>
<rect x="318.10" y="891.09" width="44.08" height="44.06" fill="#fdf0e9"/>
<rect x="361.78" y="891.09" width="44.08" height="44.06" fill="#f6c6af"/>
<rect x="405.47" y="891.09" width="44.08" height="44.06" fill="#fdeee6"/>
<rect x="449.15" y="891.09" width="44.08" height="44.06" fill="#f1f7fa"/>
<rect x="492.83" y="891.09" width="44.08" height="44.06" fill="#fef8f4"/>
<rect x="536.51" y="891.09" width="44.08" height="44.06" fill="#d2e4f0"/>
<rect x="580.20" y="891.09" width="44.08" height="44.06" fill="#f6f9fc"/>
<rect x="623.88" y="891.09" width="44.08" height="44.06" fill="#fdf0e9"/>
<rect x="667.56" y="891.09" width="44.08" height="44.06" fill="#fef8f4"/>
<rect x="754.93" y="891.09" width="44.08" height="44.06" fill="#94c4dd"/>
<rect x="842.30" y="891.09" width="44.08" height="44.06" fill="#fdf0e9"/>
<rect x="885.98" y="891.09" width="44.08" height="44.06" fill="#fdebe0"/>
<rect x="929.66" y="891.09" width="44.08" height="44.06" fill="#1b3866"/>
<rect x="973.35" y="891.09" width="44.08" height="44.06" fill="#f7c9b2"/>
<rect x="1017.03" y="891.09" width="44.08" height="44.06" fill="#f8fbfd"/>
<rect x="1060.71" y="891.09" width="44.08" height="44.06" fill="#fad7c4"/>
<rect x="1104.39" y="891.09" width="44.08" height="44.06" fill="#fdebe0"/>
<rect x="1148.08" y="891.09" width="44.08" height="44.06" fill="#fdf0e9"/>
<rect x="1191.76" y="891.09" width="44.08" height="44.06" fill="#fdeee6"/>
<rect x="1235.44" y="891.09" width="44.08" height="44.06" fill="#fafcfd"/>
<rect x="1279.13" y="891.09" width="44.08" height="44.06" fill="#fdfefe"/>
<rect x="1322.81" y="891.09" width="44.08" height="44.06" fill="#cde1ee"/>
<rect x="1366.49" y="891.09" width="44.08" height="44.06" fill="#fdeee6"/>
<rect x="1410.18" y="891.09" width="44.08" height="44.06" fill="#eaf2f8"/>
<rect x="1453.86" y="891.09" width="44.08" height="44.06" fill="#fbdecd"/>
<rect x="1497.54" y="891.09" width="44.08" height="44.06" fill="#deebf4"/>
<rect x="1541.22" y="891.09" width="44.08" height="44.06" fill="#fef2eb"/>
<rect x="1584.91" y="891.09" width="45.89" height="44.06" fill="#fdece3"/>
<rect x="274.90" y="934.75" width="43.60" height="44.06" fill="#e8f1f7"/>
<rect x="318.10" y="934.75" width="44.08" height="44.06" fill="#bdd9e9"/>
<rect x="361.78" y="934.75" width="44.08" height="44.06" fill="#d7e7f1"/>
<rect x="405.47" y="934.75" width="44.08" height="44.06" fill="#eaf2f8"/>
<rect x="449.15" y="934.75" width="44.08" height="44.06" fill="#f3b69a"/>
<rect x="492.83" y="934.75" width="44.08" height="44.06" fill="#fce0cf"/>
<rect x="536.51" y="934.75" width="44.08" height="44.06" fill="#eea282"/>
<rect x="580.20" y="934.75" width="44.08" height="44.06" fill="#fad7c4"/>
<rect x="623.88" y="934.75" width="44.08" height="44.06" fill="#f6c4ab"/>
<rect x="667.56" y="934.75" width="44.08" height="44.06" fill="#f3f8fb"/>
<rect x="711.25" y="934.75" width="44.08" height="44.06" fill="#fdfefe"/>
<rect x="754.93" y="934.75" width="44.08" height="44.06" fill="#fbdecd"/>
<rect x="798.61" y="934.75" width="44.08" height="44.06" fill="#f8ccb6"/>
<rect x="842.30" y="934.75" width="44.08" height="44.06" fill="#aacfe4"/>
<rect x="885.98" y="934.75" width="44.08" height="44.06" fill="#d9e9f2"/>
<rect x="929.66" y="934.75" width="44.08" height="44.06" fill="#f7c9b2"/>
<rect x="973.35" y="934.75" width="44.08" height="44.06" fill="#1b3866"/>
<rect x="1017.03" y="934.75" width="44.08" height="44.06" fill="#3f89bc"/>
<rect x="1060.71" y="934.75" width="44.08" height="44.06" fill="#2e73b0"/>
<rect x="1104.39" y="934.75" width="44.08" height="44.06" fill="#a4cce2"/>
<rect x="1148.08" y="934.75" width="44.08" height="44.06" fill="#eff5f9"/>
<rect x="1191.76" y="934.75" width="44.08" height="44.06" fill="#a7cee3"/>
<rect x="1235.44" y="934.75" width="44.08" height="44.06" fill="#f4bea4"/>
<rect x="1279.13" y="934.75" width="44.08" height="44.06" fill="#fbdcca"/>
<rect x="1322.81" y="934.75" width="44.08" height="44.06" fill="#fef2eb"/>
<rect x="1366.49" y="934.75" width="44.08" height="44.06" fill="#fbdcca"/>
<rect x="1410.18" y="934.75" width="44.08" height="44.06" fill="#f4bba1"/>
<rect x="1453.86" y="934.75" width="44.08" height="44.06" fill="#eff5f9"/>
<rect x="1497.54" y="934.75" width="44.08" height="44.06" fill="#f9d2bd"/>
<rect x="1541.22" y="934.75" width="44.08" height="44.06" fill="#f3f8fb"/>
<rect x="1584.91" y="934.75" width="45.89" height="44.06" fill="#e0edf5"/>
<rect x="274.90" y="978.41" width="43.60" height="44.06" fill="#fef9f7"/>
<rect x="318.10" y="978.41" width="44.08" height="44.06" fill="#fafcfd"/>
<rect x="361.78" y="978.41" width="44.08" height="44.06" fill="#f3f8fb"/>
<rect x="405.47" y="978.41" width="44.08" height="44.06" fill="#e5f0f6"/>
<rect x="449.15" y="978.41" width="44.08" height="44.06" fill="#fdece3"/>
<rect x="492.83" y="978.41" width="44.08" height="44.06" fill="#fbdecd"/>
<rect x="536.51" y="978.41" width="44.08" height="44.06" fill="#fbdcca"/>
<rect x="580.20" y="978.41" width="44.08" height="44.06" fill="#fef6f1"/>
<rect x="623.88" y="978.41" width="44.08" height="44.06" fill="#fce0cf"/>
<rect x="667.56" y="978.41" width="44.08" height="44.06" fill="#fef9f7"/>
<rect x="711.25" y="978.41" width="44.08" height="44.06" fill="#fef9f7"/>
<rect x="754.93" y="978.41" width="44.08" height="44.06" fill="#fce0cf"/>
<rect x="798.61" y="978.41" width="44.08" height="44.06" fill="#fef4ee"/>
<rect x="842.30" y="978.41" width="44.08" height="44.06" fill="#e0edf5"/>
<rect x="885.98" y="978.41" width="44.08" height="44.06" fill="#fffbf9"/>
<rect x="929.66" y="978.41" width="44.08" height="44.06" fill="#f8fbfd"/>
<rect x="973.35" y="978.41" width="44.08" height="44.06" fill="#3f89bc"/>
<rect x="1017.03" y="978.41" width="44.08" height="44.06" fill="#1b3866"/>
<rect x="1060.71" y="978.41" width="44.08" height="44.06" fill="#a1cae1"/>
<rect x="1104.39" y="978.41" width="44.08" height="44.06" fill="#c3dceb"/>
<rect x="1148.08" y="978.41" width="44.08" height="44.06" fill="#ecf4f9"/>
<rect x="1191.76" y="978.41" width="44.08" height="44.06" fill="#eff5f9"/>
<rect x="1235.44" y="978.41" width="44.08" height="44.06" fill="#fef6f1"/>
<rect x="1279.13" y="978.41" width="44.08" height="44.06" fill="#fffbf9"/>
<rect x="1322.81" y="978.41" width="44.08" height="44.06" fill="#fce3d5"/>
<rect x="1366.49" y="978.41" width="44.08" height="44.06" fill="#da7660"/>
<rect x="1410.18" y="978.41" width="44.08" height="44.06" fill="#fad7c4"/>
<rect x="1453.86" y="978.41" width="44.08" height="44.06" fill="#efa585"/>
<rect x="1497.54" y="978.41" width="44.08" height="44.06" fill="#fad4c0"/>
<rect x="1541.22" y="978.41" width="44.08" height="44.06" fill="#cae0ed"/>
<rect x="1584.91" y="978.41" width="45.89" height="44.06" fill="#e5f0f6"/>
<rect x="274.90" y="1022.07" width="43.60" height="44.06" fill="#fdfefe"/>
<rect x="318.10" y="1022.07" width="44.08" height="44.06" fill="#d7e7f1"/>
<rect x="361.78" y="1022.07" width="44.08" height="44.06" fill="#d5e6f1"/>
<rect x="405.47" y="1022.07" width="44.08" height="44.06" fill="#fdeee6"/>
<rect x="449.15" y="1022.07" width="44.08" height="44.06" fill="#f1ad90"/>
<rect x="492.83" y="1022.07" width="44.08" height="44.06" fill="#fbdecd"/>
<rect x="536.51" y="1022.07" width="44.08" height="44.06" fill="#e69175"/>
<rect x="580.20" y="1022.07" width="44.08" height="44.06" fill="#f8cfb9"/>
<rect x="623.88" y="1022.07" width="44.08" height="44.06" fill="#f9d2bd"/>
<rect x="667.56" y="1022.07" width="44.08" height="44.06" fill="#fffdfc"/>
<rect x="711.25" y="1022.07" width="44.08" height="44.06" fill="#f6f9fc"/>
<rect x="754.93" y="1022.07" width="44.08" height="44.06" fill="#fce7db"/>
<rect x="798.61" y="1022.07" width="44.08" height="44.06" fill="#fbdac7"/>
<rect x="842.30" y="1022.07" width="44.08" height="44.06" fill="#c3dceb"/>
<rect x="885.98" y="1022.07" width="44.08" height="44.06" fill="#d7e7f1"/>
<rect x="929.66" y="1022.07" width="44.08" height="44.06" fill="#fad7c4"/>
<rect x="973.35" y="1022.07" width="44.08" height="44.06" fill="#2e73b0"/>
<rect x="1017.03" y="1022.07" width="44.08" height="44.06" fill="#a1cae1"/>
<rect x="1060.71" y="1022.07" width="44.08" height="44.06" fill="#1b3866"/>
<rect x="1104.39" y="1022.07" width="44.08" height="44.06" fill="#bdd9e9"/>
<rect x="1148.08" y="1022.07" width="44.08" height="44.06" fill="#fffbf9"/>
<rect x="1191.76" y="1022.07" width="44.08" height="44.06" fill="#7ab3d4"/>
<rect x="1235.44" y="1022.07" width="44.08" height="44.06" fill="#e89477"/>
<rect x="1279.13" y="1022.07" width="44.08" height="44.06" fill="#f7c9b2"/>
<rect x="1322.81" y="1022.07" width="44.08" height="44.06" fill="#eaf2f8"/>
<rect x="1366.49" y="1022.07" width="44.08" height="44.06" fill="#fce7db"/>
<rect x="1410.18" y="1022.07" width="44.08" height="44.06" fill="#f4bea4"/>
<rect x="1453.86" y="1022.07" width="44.08" height="44.06" fill="#e0edf5"/>
<rect x="1497.54" y="1022.07" width="44.08" height="44.06" fill="#f4bea4"/>
<rect x="1541.22" y="1022.07" width="44.08" height="44.06" fill="#fffdfc"/>
<rect x="1584.91" y="1022.07" width="45.89" height="44.06" fill="#e3eef5"/>
<rect x="274.90" y="1065.73" width="43.60" height="44.06" fill="#fce1d2"/>
<rect x="318.10" y="1065.73" width="44.08" height="44.06" fill="#fef9f7"/>
<rect x="361.78" y="1065.73" width="44.08" height="44.06" fill="#deebf4"/>
<rect x="405.47" y="1065.73" width="44.08" height="44.06" fill="#e8f1f7"/>
<rect x="449.15" y="1065.73" width="44.08" height="44.06" fill="#fce5d8"/>
<rect x="492.83" y="1065.73" width="44.08" height="44.06" fill="#fef4ee"/>
<rect x="536.51" y="1065.73" width="44.08" height="44.06" fill="#fad4c0"/>
<rect x="580.20" y="1065.73" width="44.08" height="44.06" fill="#fbdcca"/>
<rect x="623.88" y="1065.73" width="44.08" height="44.06" fill="#fafcfd"/>
<rect x="667.56" y="1065.73" width="44.08" height="44.06" fill="#fce1d2"/>
<rect x="711.25" y="1065.73" width="44.08" height="44.06" fill="#fef4ee"/>
<rect x="754.93" y="1065.73" width="44.08" height="44.06" fill="#fdeee6"/>
<rect x="798.61" y="1065.73" width="44.08" height="44.06" fill="#deebf4"/>
<rect x="842.30" y="1065.73" width="44.08" height="44.06" fill="#fdece3"/>
<rect x="885.98" y="1065.73" width="44.08" height="44.06" fill="#fef2eb"/>
<rect x="929.66" y="1065.73" width="44.08" height="44.06" fill="#fdebe0"/>
<rect x="973.35" y="1065.73" width="44.08" height="44.06" fill="#a4cce2"/>
<rect x="1017.03" y="1065.73" width="44.08" height="44.06" fill="#c3dceb"/>
<rect x="1060.71" y="1065.73" width="44.08" height="44.06" fill="#bdd9e9"/>
<rect x="1104.39" y="1065.73" width="44.08" height="44.06" fill="#1b3866"/>
<rect x="1148.08" y="1065.73" width="44.08" height="44.06" fill="#418bbe"/>
<rect x="1191.76" y="1065.73" width="44.08" height="44.06" fill="#d5e6f1"/>
<rect x="1235.44" y="1065.73" width="44.08" height="44.06" fill="#e8f1f7"/>
<rect x="1279.13" y="1065.73" width="44.08" height="44.06" fill="#fdfefe"/>
<rect x="1322.81" y="1065.73" width="44.08" height="44.06" fill="#fdece3"/>
<rect x="1366.49" y="1065.73" width="44.08" height="44.06" fill="#fef2eb"/>
<rect x="1410.18" y="1065.73" width="44.08" height="44.06" fill="#fce0cf"/>
<rect x="1453.86" y="1065.73" width="44.08" height="44.06" fill="#eff5f9"/>
<rect x="1497.54" y="1065.73" width="44.08" height="44.06" fill="#fdebe0"/>
<rect x="1541.22" y="1065.73" width="44.08" height="44.06" fill="#ecf4f9"/>
<rect x="1584.91" y="1065.73" width="45.89" height="44.06" fill="#d2e4f0"/>
<rect x="274.90" y="1109.39" width="43.60" height="44.06" fill="#fce7db"/>
<rect x="318.10" y="1109.39" width="44.08" height="44.06" fill="#fef4ee"/>
<rect x="361.78" y="1109.39" width="44.08" height="44.06" fill="#eff5f9"/>
<rect x="405.47" y="1109.39" width="44.08" height="44.06" fill="#e8f1f7"/>
<rect x="449.15" y="1109.39" width="44.08" height="44.06" fill="#fffdfc"/>
<rect x="492.83" y="1109.39" width="44.08" height="44.06" fill="#fdeee6"/>
<rect x="536.51" y="1109.39" width="44.08" height="44.06" fill="#f3f8fb"/>
<rect x="580.20" y="1109.39" width="44.08" height="44.06" fill="#fef9f7"/>
<rect x="623.88" y="1109.39" width="44.08" height="44.06" fill="#fffdfc"/>
<rect x="667.56" y="1109.39" width="44.08" height="44.06" fill="#fdebe0"/>
<rect x="711.25" y="1109.39" width="44.08" height="44.06" fill="#fdf0e9"/>
<rect x="754.93" y="1109.39" width="44.08" height="44.06" fill="#fdf0e9"/>
<rect x="798.61" y="1109.39" width="44.08" height="44.06" fill="#eaf2f8"/>
<rect x="842.30" y="1109.39" width="44.08" height="44.06" fill="#fdeee6"/>
<rect x="885.98" y="1109.39" width="44.08" height="44.06" fill="#fef2eb"/>
<rect x="929.66" y="1109.39" width="44.08" height="44.06" fill="#fdf0e9"/>
<rect x="973.35" y="1109.39" width="44.08" height="44.06" fill="#eff5f9"/>
<rect x="1017.03" y="1109.39" width="44.08" height="44.06" fill="#ecf4f9"/>
<rect x="1060.71" y="1109.39" width="44.08" height="44.06" fill="#fffbf9"/>
<rect x="1104.39" y="1109.39" width="44.08" height="44.06" fill="#418bbe"/>
<rect x="1148.08" y="1109.39" width="44.08" height="44.06" fill="#1b3866"/>
<rect x="1191.76" y="1109.39" width="44.08" height="44.06" fill="#f0aa8c"/>
<rect x="1235.44" y="1109.39" width="44.08" height="44.06" fill="#a4cce2"/>
<rect x="1279.13" y="1109.39" width="44.08" height="44.06" fill="#deebf4"/>
<rect x="1322.81" y="1109.39" width="44.08" height="44.06" fill="#f8ccb6"/>
<rect x="1366.49" y="1109.39" width="44.08" height="44.06" fill="#eaf2f8"/>
<rect x="1410.18" y="1109.39" width="44.08" height="44.06" fill="#f1f7fa"/>
<rect x="1453.86" y="1109.39" width="44.08" height="44.06" fill="#f3f8fb"/>
<rect x="1497.54" y="1109.39" width="44.08" height="44.06" fill="#ecf4f9"/>
<rect x="1541.22" y="1109.39" width="44.08" height="44.06" fill="#f3f8fb"/>
<rect x="1584.91" y="1109.39" width="45.89" height="44.06" fill="#f6f9fc"/>
<rect x="274.90" y="1153.05" width="43.60" height="44.06" fill="#e8f1f7"/>
<rect x="318.10" y="1153.05" width="44.08" height="44.06" fill="#c7deec"/>
<rect x="361.78" y="1153.05" width="44.08" height="44.06" fill="#deebf4"/>
<rect x="405.47" y="1153.05" width="44.08" height="44.06" fill="#fffbf9"/>
<rect x="449.15" y="1153.05" width="44.08" height="44.06" fill="#f6c4ab"/>
<rect x="492.83" y="1153.05" width="44.08" height="44.06" fill="#fffbf9"/>
<rect x="536.51" y="1153.05" width="44.08" height="44.06" fill="#f1ad90"/>
<rect x="580.20" y="1153.05" width="44.08" height="44.06" fill="#f5c1a8"/>
<rect x="623.88" y="1153.05" width="44.08" height="44.06" fill="#fef8f4"/>
<rect x="667.56" y="1153.05" width="44.08" height="44.06" fill="#fdfefe"/>
<rect x="711.25" y="1153.05" width="44.08" height="44.06" fill="#fef9f7"/>
<rect x="754.93" y="1153.05" width="44.08" height="44.06" fill="#fffdfc"/>
<rect x="798.61" y="1153.05" width="44.08" height="44.06" fill="#fef4ee"/>
<rect x="842.30" y="1153.05" width="44.08" height="44.06" fill="#f6f9fc"/>
<rect x="885.98" y="1153.05" width="44.08" height="44.06" fill="#fffdfc"/>
<rect x="929.66" y="1153.05" width="44.08" height="44.06" fill="#fdeee6"/>
<rect x="973.35" y="1153.05" width="44.08" height="44.06" fill="#a7cee3"/>
<rect x="1017.03" y="1153.05" width="44.08" height="44.06" fill="#eff5f9"/>
<rect x="1060.71" y="1153.05" width="44.08" height="44.06" fill="#7ab3d4"/>
<rect x="1104.39" y="1153.05" width="44.08" height="44.06" fill="#d5e6f1"/>
<rect x="1148.08" y="1153.05" width="44.08" height="44.06" fill="#f0aa8c"/>
<rect x="1191.76" y="1153.05" width="44.08" height="44.06" fill="#1b3866"/>
<rect x="1235.44" y="1153.05" width="44.08" height="44.06" fill="#efa585"/>
<rect x="1279.13" y="1153.05" width="44.08" height="44.06" fill="#fce3d5"/>
<rect x="1322.81" y="1153.05" width="44.08" height="44.06" fill="#d5e6f1"/>
<rect x="1366.49" y="1153.05" width="44.08" height="44.06" fill="#fce3d5"/>
<rect x="1410.18" y="1153.05" width="44.08" height="44.06" fill="#f2b397"/>
<rect x="1453.86" y="1153.05" width="44.08" height="44.06" fill="#e3eef5"/>
<rect x="1497.54" y="1153.05" width="44.08" height="44.06" fill="#f7c9b2"/>
<rect x="1541.22" y="1153.05" width="44.08" height="44.06" fill="#fdf0e9"/>
<rect x="1584.91" y="1153.05" width="45.89" height="44.06" fill="#eaf2f8"/>
<rect x="274.90" y="1196.71" width="43.60" height="44.06" fill="#fdebe0"/>
<rect x="318.10" y="1196.71" width="44.08" height="44.06" fill="#fce7db"/>
<rect x="361.78" y="1196.71" width="44.08" height="44.06" fill="#fffbf9"/>
<rect x="405.47" y="1196.71" width="44.08" height="44.06" fill="#d2e4f0"/>
<rect x="449.15" y="1196.71" width="44.08" height="44.06" fill="#d2e4f0"/>
<rect x="492.83" y="1196.71" width="44.08" height="44.06" fill="#c0dbea"/>
<rect x="536.51" y="1196.71" width="44.08" height="44.06" fill="#aacfe4"/>
<rect x="580.20" y="1196.71" width="44.08" height="44.06" fill="#e0edf5"/>
<rect x="623.88" y="1196.71" width="44.08" height="44.06" fill="#aacfe4"/>
<rect x="667.56" y="1196.71" width="44.08" height="44.06" fill="#fdfefe"/>
<rect x="711.25" y="1196.71" width="44.08" height="44.06" fill="#fef9f7"/>
<rect x="754.93" y="1196.71" width="44.08" height="44.06" fill="#e8f1f7"/>
<rect x="798.61" y="1196.71" width="44.08" height="44.06" fill="#c7deec"/>
<rect x="842.30" y="1196.71" width="44.08" height="44.06" fill="#fce1d2"/>
<rect x="885.98" y="1196.71" width="44.08" height="44.06" fill="#fbdac7"/>
<rect x="929.66" y="1196.71" width="44.08" height="44.06" fill="#fafcfd"/>
<rect x="973.35" y="1196.71" width="44.08" height="44.06" fill="#f4bea4"/>
<rect x="1017.03" y="1196.71" width="44.08" height="44.06" fill="#fef6f1"/>
<rect x="1060.71" y="1196.71" width="44.08" height="44.06" fill="#e89477"/>
<rect x="1104.39" y="1196.71" width="44.08" height="44.06" fill="#e8f1f7"/>
<rect x="1148.08" y="1196.71" width="44.08" height="44.06" fill="#a4cce2"/>
<rect x="1191.76" y="1196.71" width="44.08" height="44.06" fill="#efa585"/>
<rect x="1235.44" y="1196.71" width="44.08" height="44.06" fill="#1b3866"/>
<rect x="1279.13" y="1196.71" width="44.08" height="44.06" fill="#cae0ed"/>
<rect x="1322.81" y="1196.71" width="44.08" height="44.06" fill="#fef6f1"/>
<rect x="1410.18" y="1196.71" width="44.08" height="44.06" fill="#c3dceb"/>
<rect x="1453.86" y="1196.71" width="44.08" height="44.06" fill="#fbdac7"/>
<rect x="1497.54" y="1196.71" width="44.08" height="44.06" fill="#c3dceb"/>
<rect x="1541.22" y="1196.71" width="44.08" height="44.06" fill="#cde1ee"/>
<rect x="1584.91" y="1196.71" width="45.89" height="44.06" fill="#f6f9fc"/>
<rect x="274.90" y="1240.37" width="43.60" height="44.06" fill="#f3b69a"/>
<rect x="318.10" y="1240.37" width="44.08" height="44.06" fill="#fce0cf"/>
<rect x="361.78" y="1240.37" width="44.08" height="44.06" fill="#d5e6f1"/>
<rect x="405.47" y="1240.37" width="44.08" height="44.06" fill="#e3eef5"/>
<rect x="449.15" y="1240.37" width="44.08" height="44.06" fill="#bad7e8"/>
<rect x="492.83" y="1240.37" width="44.08" height="44.06" fill="#e8f1f7"/>
<rect x="536.51" y="1240.37" width="44.08" height="44.06" fill="#cae0ed"/>
<rect x="580.20" y="1240.37" width="44.08" height="44.06" fill="#d9e9f2"/>
<rect x="623.88" y="1240.37" width="44.08" height="44.06" fill="#c0dbea"/>
<rect x="667.56" y="1240.37" width="44.08" height="44.06" fill="#fad7c4"/>
<rect x="711.25" y="1240.37" width="44.08" height="44.06" fill="#fef2eb"/>
<rect x="754.93" y="1240.37" width="44.08" height="44.06" fill="#e8f1f7"/>
<rect x="798.61" y="1240.37" width="44.08" height="44.06" fill="#b0d2e6"/>
<rect x="842.30" y="1240.37" width="44.08" height="44.06" fill="#f5c1a8"/>
<rect x="885.98" y="1240.37" width="44.08" height="44.06" fill="#f8ccb6"/>
<rect x="929.66" y="1240.37" width="44.08" height="44.06" fill="#fdfefe"/>
<rect x="973.35" y="1240.37" width="44.08" height="44.06" fill="#fbdcca"/>
<rect x="1017.03" y="1240.37" width="44.08" height="44.06" fill="#fffbf9"/>
<rect x="1060.71" y="1240.37" width="44.08" height="44.06" fill="#f7c9b2"/>
<rect x="1104.39" y="1240.37" width="44.08" height="44.06" fill="#fdfefe"/>
<rect x="1148.08" y="1240.37" width="44.08" height="44.06" fill="#deebf4"/>
<rect x="1191.76" y="1240.37" width="44.08" height="44.06" fill="#fce3d5"/>
<rect x="1235.44" y="1240.37" width="44.08" height="44.06" fill="#cae0ed"/>
<rect x="1279.13" y="1240.37" width="44.08" height="44.06" fill="#1b3866"/>
<rect x="1366.49" y="1240.37" width="44.08" height="44.06" fill="#d0e3ef"/>
<rect x="1410.18" y="1240.37" width="44.08" height="44.06" fill="#a7cee3"/>
<rect x="1453.86" y="1240.37" width="44.08" height="44.06" fill="#fef2eb"/>
<rect x="1497.54" y="1240.37" width="44.08" height="44.06" fill="#eff5f9"/>
<rect x="1541.22" y="1240.37" width="44.08" height="44.06" fill="#f1f7fa"/>
<rect x="1584.91" y="1240.37" width="45.89" height="44.06" fill="#dceaf3"/>
<rect x="274.90" y="1284.03" width="43.60" height="44.06" fill="#d9e9f2"/>
<rect x="318.10" y="1284.03" width="44.08" height="44.06" fill="#fffbf9"/>
<rect x="361.78" y="1284.03" width="44.08" height="44.06" fill="#fbdcca"/>
<rect x="405.47" y="1284.03" width="44.08" height="44.06" fill="#fdeee6"/>
<rect x="449.15" y="1284.03" width="44.08" height="44.06" fill="#fef4ee"/>
<rect x="492.83" y="1284.03" width="44.08" height="44.06" fill="#ecf4f9"/>
<rect x="536.51" y="1284.03" width="44.08" height="44.06" fill="#fdfefe"/>
<rect x="580.20" y="1284.03" width="44.08" height="44.06" fill="#fffdfc"/>
<rect x="623.88" y="1284.03" width="44.08" height="44.06" fill="#eff5f9"/>
<rect x="667.56" y="1284.03" width="44.08" height="44.06" fill="#fef8f4"/>
<rect x="711.25" y="1284.03" width="44.08" height="44.06" fill="#fef8f4"/>
<rect x="754.93" y="1284.03" width="44.08" height="44.06" fill="#d0e3ef"/>
<rect x="798.61" y="1284.03" width="44.08" height="44.06" fill="#fdfefe"/>
<rect x="842.30" y="1284.03" width="44.08" height="44.06" fill="#fdeee6"/>
<rect x="885.98" y="1284.03" width="44.08" height="44.06" fill="#fef6f1"/>
<rect x="929.66" y="1284.03" width="44.08" height="44.06" fill="#cde1ee"/>
<rect x="973.35" y="1284.03" width="44.08" height="44.06" fill="#fef2eb"/>
<rect x="1017.03" y="1284.03" width="44.08" height="44.06" fill="#fce3d5"/>
<rect x="1060.71" y="1284.03" width="44.08" height="44.06" fill="#eaf2f8"/>
<rect x="1104.39" y="1284.03" width="44.08" height="44.06" fill="#fdece3"/>
<rect x="1148.08" y="1284.03" width="44.08" height="44.06" fill="#f8ccb6"/>
<rect x="1191.76" y="1284.03" width="44.08" height="44.06" fill="#d5e6f1"/>
<rect x="1235.44" y="1284.03" width="44.08" height="44.06" fill="#fef6f1"/>
<rect x="1322.81" y="1284.03" width="44.08" height="44.06" fill="#1b3866"/>
<rect x="1366.49" y="1284.03" width="44.08" height="44.06" fill="#fef8f4"/>
<rect x="1410.18" y="1284.03" width="44.08" height="44.06" fill="#f6f9fc"/>
<rect x="1453.86" y="1284.03" width="44.08" height="44.06" fill="#fdeee6"/>
<rect x="1497.54" y="1284.03" width="44.08" height="44.06" fill="#d9e9f2"/>
<rect x="1541.22" y="1284.03" width="44.08" height="44.06" fill="#fef4ee"/>
<rect x="1584.91" y="1284.03" width="45.89" height="44.06" fill="#e8f1f7"/>
<rect x="274.90" y="1327.69" width="43.60" height="44.06" fill="#fdebe0"/>
<rect x="318.10" y="1327.69" width="44.08" height="44.06" fill="#fffdfc"/>
<rect x="361.78" y="1327.69" width="44.08" height="44.06" fill="#e5f0f6"/>
<rect x="405.47" y="1327.69" width="44.08" height="44.06" fill="#fef6f1"/>
<rect x="449.15" y="1327.69" width="44.08" height="44.06" fill="#e3eef5"/>
<rect x="492.83" y="1327.69" width="44.08" height="44.06" fill="#d7e7f1"/>
<rect x="536.51" y="1327.69" width="44.08" height="44.06" fill="#bad7e8"/>
<rect x="580.20" y="1327.69" width="44.08" height="44.06" fill="#e8f1f7"/>
<rect x="623.88" y="1327.69" width="44.08" height="44.06" fill="#e0edf5"/>
<rect x="667.56" y="1327.69" width="44.08" height="44.06" fill="#e3eef5"/>
<rect x="711.25" y="1327.69" width="44.08" height="44.06" fill="#cde1ee"/>
<rect x="754.93" y="1327.69" width="44.08" height="44.06" fill="#d2e4f0"/>
<rect x="798.61" y="1327.69" width="44.08" height="44.06" fill="#fafcfd"/>
<rect x="842.30" y="1327.69" width="44.08" height="44.06" fill="#fdfefe"/>
<rect x="885.98" y="1327.69" width="44.08" height="44.06" fill="#eff5f9"/>
<rect x="929.66" y="1327.69" width="44.08" height="44.06" fill="#fdeee6"/>
<rect x="973.35" y="1327.69" width="44.08" height="44.06" fill="#fbdcca"/>
<rect x="1017.03" y="1327.69" width="44.08" height="44.06" fill="#da7660"/>
<rect x="1060.71" y="1327.69" width="44.08" height="44.06" fill="#fce7db"/>
<rect x="1104.39" y="1327.69" width="44.08" height="44.06" fill="#fef2eb"/>
<rect x="1148.08" y="1327.69" width="44.08" height="44.06" fill="#eaf2f8"/>
<rect x="1191.76" y="1327.69" width="44.08" height="44.06" fill="#fce3d5"/>
<rect x="1279.13" y="1327.69" width="44.08" height="44.06" fill="#d0e3ef"/>
<rect x="1322.81" y="1327.69" width="44.08" height="44.06" fill="#fef8f4"/>
<rect x="1366.49" y="1327.69" width="44.08" height="44.06" fill="#1b3866"/>
<rect x="1410.18" y="1327.69" width="44.08" height="44.06" fill="#6aa8ce"/>
<rect x="1453.86" y="1327.69" width="44.08" height="44.06" fill="#3880b8"/>
<rect x="1497.54" y="1327.69" width="44.08" height="44.06" fill="#c3dceb"/>
<rect x="1541.22" y="1327.69" width="44.08" height="44.06" fill="#fef6f1"/>
<rect x="1584.91" y="1327.69" width="45.89" height="44.06" fill="#fdf0e9"/>
<rect x="274.90" y="1371.35" width="43.60" height="44.06" fill="#fef4ee"/>
<rect x="318.10" y="1371.35" width="44.08" height="44.06" fill="#f3b89e"/>
<rect x="361.78" y="1371.35" width="44.08" height="44.06" fill="#f6c4ab"/>
<rect x="405.47" y="1371.35" width="44.08" height="44.06" fill="#fce3d5"/>
<rect x="449.15" y="1371.35" width="44.08" height="44.06" fill="#cde1ee"/>
<rect x="492.83" y="1371.35" width="44.08" height="44.06" fill="#e3eef5"/>
<rect x="536.51" y="1371.35" width="44.08" height="44.06" fill="#91c2dc"/>
<rect x="580.20" y="1371.35" width="44.08" height="44.06" fill="#d0e3ef"/>
<rect x="623.88" y="1371.35" width="44.08" height="44.06" fill="#c0dbea"/>
<rect x="667.56" y="1371.35" width="44.08" height="44.06" fill="#fbdcca"/>
<rect x="711.25" y="1371.35" width="44.08" height="44.06" fill="#fdebe0"/>
<rect x="754.93" y="1371.35" width="44.08" height="44.06" fill="#c0dbea"/>
<rect x="798.61" y="1371.35" width="44.08" height="44.06" fill="#b0d2e6"/>
<rect x="842.30" y="1371.35" width="44.08" height="44.06" fill="#fbdcca"/>
<rect x="885.98" y="1371.35" width="44.08" height="44.06" fill="#fbdac7"/>
<rect x="929.66" y="1371.35" width="44.08" height="44.06" fill="#eaf2f8"/>
<rect x="973.35" y="1371.35" width="44.08" height="44.06" fill="#f4bba1"/>
<rect x="1017.03" y="1371.35" width="44.08" height="44.06" fill="#fad7c4"/>
<rect x="1060.71" y="1371.35" width="44.08" height="44.06" fill="#f4bea4"/>
<rect x="1104.39" y="1371.35" width="44.08" height="44.06" fill="#fce0cf"/>
<rect x="1148.08" y="1371.35" width="44.08" height="44.06" fill="#f1f7fa"/>
<rect x="1191.76" y="1371.35" width="44.08" height="44.06" fill="#f2b397"/>
<rect x="1235.44" y="1371.35" width="44.08" height="44.06" fill="#c3dceb"/>
<rect x="1279.13" y="1371.35" width="44.08" height="44.06" fill="#a7cee3"/>
<rect x="1322.81" y="1371.35" width="44.08" height="44.06" fill="#f6f9fc"/>
<rect x="1366.49" y="1371.35" width="44.08" height="44.06" fill="#6aa8ce"/>
<rect x="1410.18" y="1371.35" width="44.08" height="44.06" fill="#1b3866"/>
<rect x="1453.86" y="1371.35" width="44.08" height="44.06" fill="#f5c1a8"/>
<rect x="1497.54" y="1371.35" width="44.08" height="44.06" fill="#82b8d6"/>
<rect x="1541.22" y="1371.35" width="44.08" height="44.06" fill="#e3eef5"/>
<rect x="1584.91" y="1371.35" width="45.89" height="44.06" fill="#fbdecd"/>
<rect x="274.90" y="1415.01" width="43.60" height="44.06" fill="#fef6f1"/>
<rect x="318.10" y="1415.01" width="44.08" height="44.06" fill="#b7d6e7"/>
<rect x="361.78" y="1415.01" width="44.08" height="44.06" fill="#9ec9e0"/>
<rect x="405.47" y="1415.01" width="44.08" height="44.06" fill="#f6f9fc"/>
<rect x="449.15" y="1415.01" width="44.08" height="44.06" fill="#fef8f4"/>
<rect x="492.83" y="1415.01" width="44.08" height="44.06" fill="#ecf4f9"/>
<rect x="536.51" y="1415.01" width="44.08" height="44.06" fill="#fef4ee"/>
<rect x="580.20" y="1415.01" width="44.08" height="44.06" fill="#fef4ee"/>
<rect x="623.88" y="1415.01" width="44.08" height="44.06" fill="#fdeee6"/>
<rect x="667.56" y="1415.01" width="44.08" height="44.06" fill="#b0d2e6"/>
<rect x="711.25" y="1415.01" width="44.08" height="44.06" fill="#aacfe4"/>
<rect x="798.61" y="1415.01" width="44.08" height="44.06" fill="#f7c9b2"/>
<rect x="842.30" y="1415.01" width="44.08" height="44.06" fill="#d2e4f0"/>
<rect x="885.98" y="1415.01" width="44.08" height="44.06" fill="#bdd9e9"/>
<rect x="929.66" y="1415.01" width="44.08" height="44.06" fill="#fbdecd"/>
<rect x="973.35" y="1415.01" width="44.08" height="44.06" fill="#eff5f9"/>
<rect x="1017.03" y="1415.01" width="44.08" height="44.06" fill="#efa585"/>
<rect x="1060.71" y="1415.01" width="44.08" height="44.06" fill="#e0edf5"/>
<rect x="1104.39" y="1415.01" width="44.08" height="44.06" fill="#eff5f9"/>
<rect x="1148.08" y="1415.01" width="44.08" height="44.06" fill="#f3f8fb"/>
<rect x="1191.76" y="1415.01" width="44.08" height="44.06" fill="#e3eef5"/>
<rect x="1235.44" y="1415.01" width="44.08" height="44.06" fill="#fbdac7"/>
<rect x="1279.13" y="1415.01" width="44.08" height="44.06" fill="#fef2eb"/>
<rect x="1322.81" y="1415.01" width="44.08" height="44.06" fill="#fdeee6"/>
<rect x="1366.49" y="1415.01" width="44.08" height="44.06" fill="#3880b8"/>
<rect x="1410.18" y="1415.01" width="44.08" height="44.06" fill="#f5c1a8"/>
<rect x="1453.86" y="1415.01" width="44.08" height="44.06" fill="#1b3866"/>
<rect x="1497.54" y="1415.01" width="44.08" height="44.06" fill="#fdeee6"/>
<rect x="1541.22" y="1415.01" width="44.08" height="44.06" fill="#fbdecd"/>
<rect x="1584.91" y="1415.01" width="45.89" height="44.06" fill="#f6f9fc"/>
<rect x="274.90" y="1458.67" width="43.60" height="44.06" fill="#d2e4f0"/>
<rect x="318.10" y="1458.67" width="44.08" height="44.06" fill="#fde9dd"/>
<rect x="361.78" y="1458.67" width="44.08" height="44.06" fill="#f2b397"/>
<rect x="405.47" y="1458.67" width="44.08" height="44.06" fill="#fbdcca"/>
<rect x="449.15" y="1458.67" width="44.08" height="44.06" fill="#deebf4"/>
<rect x="492.83" y="1458.67" width="44.08" height="44.06" fill="#f6f9fc"/>
<rect x="536.51" y="1458.67" width="44.08" height="44.06" fill="#a1cae1"/>
<rect x="580.20" y="1458.67" width="44.08" height="44.06" fill="#d7e7f1"/>
<rect x="623.88" y="1458.67" width="44.08" height="44.06" fill="#fafcfd"/>
<rect x="667.56" y="1458.67" width="44.08" height="44.06" fill="#fffbf9"/>
<rect x="711.25" y="1458.67" width="44.08" height="44.06" fill="#f8cfb9"/>
<rect x="754.93" y="1458.67" width="44.08" height="44.06" fill="#cde1ee"/>
<rect x="798.61" y="1458.67" width="44.08" height="44.06" fill="#e8f1f7"/>
<rect x="842.30" y="1458.67" width="44.08" height="44.06" fill="#fce5d8"/>
<rect x="885.98" y="1458.67" width="44.08" height="44.06" fill="#fde9dd"/>
<rect x="929.66" y="1458.67" width="44.08" height="44.06" fill="#deebf4"/>
<rect x="973.35" y="1458.67" width="44.08" height="44.06" fill="#f9d2bd"/>
<rect x="1017.03" y="1458.67" width="44.08" height="44.06" fill="#fad4c0"/>
<rect x="1060.71" y="1458.67" width="44.08" height="44.06" fill="#f4bea4"/>
<rect x="1104.39" y="1458.67" width="44.08" height="44.06" fill="#fdebe0"/>
<rect x="1148.08" y="1458.67" width="44.08" height="44.06" fill="#ecf4f9"/>
<rect x="1191.76" y="1458.67" width="44.08" height="44.06" fill="#f7c9b2"/>
<rect x="1235.44" y="1458.67" width="44.08" height="44.06" fill="#c3dceb"/>
<rect x="1279.13" y="1458.67" width="44.08" height="44.06" fill="#eff5f9"/>
<rect x="1322.81" y="1458.67" width="44.08" height="44.06" fill="#d9e9f2"/>
<rect x="1366.49" y="1458.67" width="44.08" height="44.06" fill="#c3dceb"/>
<rect x="1410.18" y="1458.67" width="44.08" height="44.06" fill="#82b8d6"/>
<rect x="1453.86" y="1458.67" width="44.08" height="44.06" fill="#fdeee6"/>
<rect x="1497.54" y="1458.67" width="44.08" height="44.06" fill="#1b3866"/>
<rect x="1541.22" y="1458.67" width="44.08" height="44.06" fill="#d5e6f1"/>
<rect x="1584.91" y="1458.67" width="45.89" height="44.06" fill="#fef6f1"/>
<rect x="274.90" y="1502.33" width="43.60" height="44.06" fill="#fdeee6"/>
<rect x="318.10" y="1502.33" width="44.08" height="44.06" fill="#fad7c4"/>
<rect x="361.78" y="1502.33" width="44.08" height="44.06" fill="#fce7db"/>
<rect x="405.47" y="1502.33" width="44.08" height="44.06" fill="#fef9f7"/>
<rect x="449.15" y="1502.33" width="44.08" height="44.06" fill="#deebf4"/>
<rect x="492.83" y="1502.33" width="44.08" height="44.06" fill="#b4d4e6"/>
<rect x="536.51" y="1502.33" width="44.08" height="44.06" fill="#e0edf5"/>
<rect x="580.20" y="1502.33" width="44.08" height="44.06" fill="#ecf4f9"/>
<rect x="623.88" y="1502.33" width="44.08" height="44.06" fill="#aacfe4"/>
<rect x="667.56" y="1502.33" width="44.08" height="44.06" fill="#fdfefe"/>
<rect x="711.25" y="1502.33" width="44.08" height="44.06" fill="#f6f9fc"/>
<rect x="754.93" y="1502.33" width="44.08" height="44.06" fill="#fef2eb"/>
<rect x="798.61" y="1502.33" width="44.08" height="44.06" fill="#d5e6f1"/>
<rect x="842.30" y="1502.33" width="44.08" height="44.06" fill="#fdebe0"/>
<rect x="885.98" y="1502.33" width="44.08" height="44.06" fill="#fdf0e9"/>
<rect x="929.66" y="1502.33" width="44.08" height="44.06" fill="#fef2eb"/>
<rect x="973.35" y="1502.33" width="44.08" height="44.06" fill="#f3f8fb"/>
<rect x="1017.03" y="1502.33" width="44.08" height="44.06" fill="#cae0ed"/>
<rect x="1060.71" y="1502.33" width="44.08" height="44.06" fill="#fffdfc"/>
<rect x="1104.39" y="1502.33" width="44.08" height="44.06" fill="#ecf4f9"/>
<rect x="1148.08" y="1502.33" width="44.08" height="44.06" fill="#f3f8fb"/>
<rect x="1191.76" y="1502.33" width="44.08" height="44.06" fill="#fdf0e9"/>
<rect x="1235.44" y="1502.33" width="44.08" height="44.06" fill="#cde1ee"/>
<rect x="1279.13" y="1502.33" width="44.08" height="44.06" fill="#f1f7fa"/>
<rect x="1322.81" y="1502.33" width="44.08" height="44.06" fill="#fef4ee"/>
<rect x="1366.49" y="1502.33" width="44.08" height="44.06" fill="#fef6f1"/>
<rect x="1410.18" y="1502.33" width="44.08" height="44.06" fill="#e3eef5"/>
<rect x="1453.86" y="1502.33" width="44.08" height="44.06" fill="#fbdecd"/>
<rect x="1497.54" y="1502.33" width="44.08" height="44.06" fill="#d5e6f1"/>
<rect x="1541.22" y="1502.33" width="44.08" height="44.06" fill="#1b3866"/>
<rect x="1584.91" y="1502.33" width="45.89" height="44.06" fill="#bdd9e9"/>
<rect x="274.90" y="1545.99" width="43.60" height="46.06" fill="#fce1d2"/>
<rect x="318.10" y="1545.99" width="44.08" height="46.06" fill="#fef6f1"/>
<rect x="361.78" y="1545.99" width="44.08" height="46.06" fill="#e3eef5"/>
<rect x="405.47" y="1545.99" width="44.08" height="46.06" fill="#eaf2f8"/>
<rect x="449.15" y="1545.99" width="44.08" height="46.06" fill="#fef9f7"/>
<rect x="492.83" y="1545.99" width="44.08" height="46.06" fill="#fafcfd"/>
<rect x="536.51" y="1545.99" width="44.08" height="46.06" fill="#fdeee6"/>
<rect x="580.20" y="1545.99" width="44.08" height="46.06" fill="#fce3d5"/>
<rect x="623.88" y="1545.99" width="44.08" height="46.06" fill="#f3f8fb"/>
<rect x="667.56" y="1545.99" width="44.08" height="46.06" fill="#fffbf9"/>
<rect x="754.93" y="1545.99" width="44.08" height="46.06" fill="#dceaf3"/>
<rect x="798.61" y="1545.99" width="44.08" height="46.06" fill="#fffdfc"/>
<rect x="842.30" y="1545.99" width="44.08" height="46.06" fill="#fdfefe"/>
<rect x="885.98" y="1545.99" width="44.08" height="46.06" fill="#fce3d5"/>
<rect x="929.66" y="1545.99" width="44.08" height="46.06" fill="#fdece3"/>
<rect x="973.35" y="1545.99" width="44.08" height="46.06" fill="#e0edf5"/>
<rect x="1017.03" y="1545.99" width="44.08" height="46.06" fill="#e5f0f6"/>
<rect x="1060.71" y="1545.99" width="44.08" height="46.06" fill="#e3eef5"/>
<rect x="1104.39" y="1545.99" width="44.08" height="46.06" fill="#d2e4f0"/>
<rect x="1148.08" y="1545.99" width="44.08" height="46.06" fill="#f6f9fc"/>
<rect x="1191.76" y="1545.99" width="44.08" height="46.06" fill="#eaf2f8"/>
<rect x="1235.44" y="1545.99" width="44.08" height="46.06" fill="#f6f9fc"/>
<rect x="1279.13" y="1545.99" width="44.08" height="46.06" fill="#dceaf3"/>
<rect x="1322.81" y="1545.99" width="44.08" height="46.06" fill="#e8f1f7"/>
<rect x="1366.49" y="1545.99" width="44.08" height="46.06" fill="#fdf0e9"/>
<rect x="1410.18" y="1545.99" width="44.08" height="46.06" fill="#fbdecd"/>
<rect x="1453.86" y="1545.99" width="44.08" height="46.06" fill="#f6f9fc"/>
<rect x="1497.54" y="1545.99" width="44.08" height="46.06" fill="#fef6f1"/>
<rect x="1541.22" y="1545.99" width="44.08" height="46.06" fill="#bdd9e9"/>
<rect x="1584.91" y="1545.99" width="45.89" height="46.06" fill="#1b3866"/>
</g>
<g font-family="'Liberation Sans', Arial, Helvetica, sans-serif" font-weight="bold" font-size="19.8" fill="#d22a1f" text-anchor="middle">
<g transform="translate(297.30 0) scale(0.92 1)">
<text y="266.10">1</text>
<text y="309.76">0.58</text>
<text y="353.42">-0.46</text>
<text y="397.08">-0.1</text>
<text y="440.74">-0.35</text>
<text y="484.40">-0.14</text>
<text y="528.06">0.06</text>
<text y="571.72">-0.15</text>
<text y="615.38">-0.3</text>
<text y="659.04">0.2</text>
<text y="702.70">-0.02</text>
<text y="746.36">-0.02</text>
<text y="790.02">-0.28</text>
<text y="833.68">0.29</text>
<text y="877.34">0.23</text>
<text y="921.00">0.17</text>
<text y="964.66">0.1</text>
<text y="1008.32">-0.03</text>
<text y="1051.98">0.01</text>
<text y="1095.64">-0.16</text>
<text y="1139.30">-0.13</text>
<text y="1182.96">0.1</text>
<text y="1226.62">-0.11</text>
<text y="1270.28">-0.33</text>
<text y="1313.94">0.16</text>
<text y="1357.60">-0.11</text>
<text y="1401.26">-0.06</text>
<text y="1444.92">-0.05</text>
<text y="1488.58">0.19</text>
<text y="1532.24">-0.09</text>
<text y="1575.90">-0.16</text>
</g>
<g transform="translate(340.98 0) scale(0.92 1)">
<text y="266.10">0.58</text>
<text y="309.76">1</text>
<text y="353.42">0.45</text>
<text y="397.08">0.15</text>
<text y="440.74">-0.27</text>
<text y="484.40">-0.23</text>
<text y="528.06">-0.2</text>
<text y="571.72">-0.13</text>
<text y="615.38">-0.39</text>
<text y="659.04">0.19</text>
<text y="702.70">0.13</text>
<text y="746.36">-0.09</text>
<text y="790.02">-0.41</text>
<text y="833.68">0.41</text>
<text y="877.34">0.18</text>
<text y="921.00">-0.08</text>
<text y="964.66">0.26</text>
<text y="1008.32">0.02</text>
<text y="1051.98">0.17</text>
<text y="1095.64">-0.03</text>
<text y="1139.30">-0.06</text>
<text y="1182.96">0.23</text>
<text y="1226.62">-0.13</text>
<text y="1270.28">-0.17</text>
<text y="1313.94">-0.02</text>
<text y="1357.60">-0.01</text>
<text y="1401.26">-0.32</text>
<text y="1444.92">0.28</text>
<text y="1488.58">-0.12</text>
<text y="1532.24">-0.21</text>
<text y="1575.90">-0.05</text>
</g>
<g transform="translate(384.67 0) scale(0.92 1)">
<text y="266.10">-0.46</text>
<text y="309.76">0.45</text>
<text y="353.42">1</text>
<text y="397.08">0.27</text>
<text y="440.74">0.09</text>
<text y="484.40">-0.1</text>
<text y="528.06">-0.28</text>
<text y="571.72">0.03</text>
<text y="615.38">-0.09</text>
<text y="659.04">-0.01</text>
<text y="702.70">0.17</text>
<text y="746.36">-0.08</text>
<text y="790.02">-0.14</text>
<text y="833.68">0.14</text>
<text y="877.34">-0.06</text>
<text y="921.00">-0.27</text>
<text y="964.66">0.17</text>
<text y="1008.32">0.05</text>
<text y="1051.98">0.18</text>
<text y="1095.64">0.14</text>
<text y="1139.30">0.07</text>
<text y="1182.96">0.14</text>
<text y="1226.62">-0.02</text>
<text y="1270.28">0.18</text>
<text y="1313.94">-0.19</text>
<text y="1357.60">0.11</text>
<text y="1401.26">-0.28</text>
<text y="1444.92">0.36</text>
<text y="1488.58">-0.34</text>
<text y="1532.24">-0.13</text>
<text y="1575.90">0.12</text>
</g>
<g transform="translate(428.35 0) scale(0.92 1)">
<text y="266.10">-0.1</text>
<text y="309.76">0.15</text>
<text y="353.42">0.27</text>
<text y="397.08">1</text>
<text y="440.74">0.05</text>
<text y="484.40">-0.02</text>
<text y="528.06">-0.08</text>
<text y="571.72">0.02</text>
<text y="615.38">-0.02</text>
<text y="659.04">-0.06</text>
<text y="702.70">-0.01</text>
<text y="746.36">-0.09</text>
<text y="790.02">0</text>
<text y="833.68">0.14</text>
<text y="877.34">-0.13</text>
<text y="921.00">-0.09</text>
<text y="964.66">0.09</text>
<text y="1008.32">0.11</text>
<text y="1051.98">-0.09</text>
<text y="1095.64">0.1</text>
<text y="1139.30">0.1</text>
<text y="1182.96">-0.02</text>
<text y="1226.62">0.19</text>
<text y="1270.28">0.12</text>
<text y="1313.94">-0.09</text>
<text y="1357.60">-0.05</text>
<text y="1401.26">-0.15</text>
<text y="1444.92">0.04</text>
<text y="1488.58">-0.19</text>
<text y="1532.24">-0.03</text>
<text y="1575.90">0.09</text>
</g>
<g transform="translate(472.03 0) scale(0.92 1)">
<text y="266.10">-0.35</text>
<text y="309.76">-0.27</text>
<text y="353.42">0.09</text>
<text y="397.08">0.05</text>
<text y="440.74">1</text>
<text y="484.40">0.32</text>
<text y="528.06">0.24</text>
<text y="571.72">0.83</text>
<text y="615.38">0.38</text>
<text y="659.04">0.01</text>
<text y="702.70">-0.01</text>
<text y="746.36">0.02</text>
<text y="790.02">0.16</text>
<text y="833.68">-0.24</text>
<text y="877.34">-0.2</text>
<text y="921.00">0.06</text>
<text y="964.66">-0.33</text>
<text y="1008.32">-0.1</text>
<text y="1051.98">-0.36</text>
<text y="1095.64">-0.14</text>
<text y="1139.30">-0.01</text>
<text y="1182.96">-0.28</text>
<text y="1226.62">0.19</text>
<text y="1270.28">0.27</text>
<text y="1313.94">-0.06</text>
<text y="1357.60">0.12</text>
<text y="1401.26">0.21</text>
<text y="1444.92">-0.04</text>
<text y="1488.58">0.14</text>
<text y="1532.24">0.14</text>
<text y="1575.90">-0.03</text>
</g>
<g transform="translate(515.72 0) scale(0.92 1)">
<text y="266.10">-0.14</text>
<text y="309.76">-0.23</text>
<text y="353.42">-0.1</text>
<text y="397.08">-0.02</text>
<text y="440.74">0.32</text>
<text y="484.40">1</text>
<text y="528.06">0.32</text>
<text y="571.72">0.17</text>
<text y="615.38">0.86</text>
<text y="659.04">0.51</text>
<text y="702.70">0.24</text>
<text y="746.36">0.23</text>
<text y="790.02">0.14</text>
<text y="833.68">-0.15</text>
<text y="877.34">-0.15</text>
<text y="921.00">-0.04</text>
<text y="964.66">-0.17</text>
<text y="1008.32">-0.18</text>
<text y="1051.98">-0.18</text>
<text y="1095.64">-0.06</text>
<text y="1139.30">-0.09</text>
<text y="1182.96">-0.02</text>
<text y="1226.62">0.25</text>
<text y="1270.28">0.1</text>
<text y="1313.94">0.08</text>
<text y="1357.60">0.17</text>
<text y="1401.26">0.12</text>
<text y="1444.92">0.08</text>
<text y="1488.58">0.04</text>
<text y="1532.24">0.29</text>
<text y="1575.90">0.02</text>
</g>
<g transform="translate(559.40 0) scale(0.92 1)">
<text y="266.10">0.06</text>
<text y="309.76">-0.2</text>
<text y="353.42">-0.28</text>
<text y="397.08">-0.08</text>
<text y="440.74">0.24</text>
<text y="484.40">0.32</text>
<text y="528.06">1</text>
<text y="571.72">0.23</text>
<text y="615.38">0.3</text>
<text y="659.04">0.16</text>
<text y="702.70">0.06</text>
<text y="746.36">0.15</text>
<text y="790.02">0.12</text>
<text y="833.68">-0.05</text>
<text y="877.34">-0.19</text>
<text y="921.00">0.19</text>
<text y="964.66">-0.4</text>
<text y="1008.32">-0.19</text>
<text y="1051.98">-0.45</text>
<text y="1095.64">-0.22</text>
<text y="1139.30">0.05</text>
<text y="1182.96">-0.36</text>
<text y="1226.62">0.32</text>
<text y="1270.28">0.22</text>
<text y="1313.94">0.01</text>
<text y="1357.60">0.27</text>
<text y="1401.26">0.4</text>
<text y="1444.92">-0.06</text>
<text y="1488.58">0.35</text>
<text y="1532.24">0.13</text>
<text y="1575.90">-0.09</text>
</g>
<g transform="translate(603.08 0) scale(0.92 1)">
<text y="266.10">-0.15</text>
<text y="309.76">-0.13</text>
<text y="353.42">0.03</text>
<text y="397.08">0.02</text>
<text y="440.74">0.83</text>
<text y="484.40">0.17</text>
<text y="528.06">0.23</text>
<text y="571.72">1</text>
<text y="615.38">0.19</text>
<text y="659.04">-0.01</text>
<text y="702.70">-0.02</text>
<text y="746.36">-0.01</text>
<text y="790.02">0.04</text>
<text y="833.68">-0.15</text>
<text y="877.34">-0.11</text>
<text y="921.00">0.04</text>
<text y="964.66">-0.21</text>
<text y="1008.32">-0.05</text>
<text y="1051.98">-0.24</text>
<text y="1095.64">-0.19</text>
<text y="1139.30">-0.03</text>
<text y="1182.96">-0.29</text>
<text y="1226.62">0.13</text>
<text y="1270.28">0.16</text>
<text y="1313.94">-0.01</text>
<text y="1357.60">0.1</text>
<text y="1401.26">0.2</text>
<text y="1444.92">-0.06</text>
<text y="1488.58">0.17</text>
<text y="1532.24">0.08</text>
<text y="1575.90">-0.15</text>
</g>
<g transform="translate(646.76 0) scale(0.92 1)">
<text y="266.10">-0.3</text>
<text y="309.76">-0.39</text>
<text y="353.42">-0.09</text>
<text y="397.08">-0.02</text>
<text y="440.74">0.38</text>
<text y="484.40">0.86</text>
<text y="528.06">0.3</text>
<text y="571.72">0.19</text>
<text y="615.38">1</text>
<text y="659.04">0.1</text>
<text y="702.70">0.06</text>
<text y="746.36">0.16</text>
<text y="790.02">0.51</text>
<text y="833.68">-0.46</text>
<text y="877.34">-0.34</text>
<text y="921.00">-0.08</text>
<text y="964.66">-0.28</text>
<text y="1008.32">-0.17</text>
<text y="1051.98">-0.23</text>
<text y="1095.64">0.02</text>
<text y="1139.30">-0.01</text>
<text y="1182.96">-0.04</text>
<text y="1226.62">0.32</text>
<text y="1270.28">0.25</text>
<text y="1313.94">0.07</text>
<text y="1357.60">0.13</text>
<text y="1401.26">0.25</text>
<text y="1444.92">-0.09</text>
<text y="1488.58">0.02</text>
<text y="1532.24">0.32</text>
<text y="1575.90">0.05</text>
</g>
<g transform="translate(690.45 0) scale(0.92 1)">
<text y="266.10">0.2</text>
<text y="309.76">0.19</text>
<text y="353.42">-0.01</text>
<text y="397.08">-0.06</text>
<text y="440.74">0.01</text>
<text y="484.40">0.51</text>
<text y="528.06">0.16</text>
<text y="571.72">-0.01</text>
<text y="615.38">0.1</text>
<text y="659.04">1</text>
<text y="702.70">0.43</text>
<text y="746.36">0.08</text>
<text y="790.02">-0.53</text>
<text y="833.68">0.38</text>
<text y="877.34">0.18</text>
<text y="921.00">-0.04</text>
<text y="964.66">0.05</text>
<text y="1008.32">-0.03</text>
<text y="1051.98">-0.01</text>
<text y="1095.64">-0.16</text>
<text y="1139.30">-0.11</text>
<text y="1182.96">0.01</text>
<text y="1226.62">0.01</text>
<text y="1270.28">-0.21</text>
<text y="1313.94">-0.04</text>
<text y="1357.60">0.12</text>
<text y="1401.26">-0.19</text>
<text y="1444.92">0.3</text>
<text y="1488.58">-0.02</text>
<text y="1532.24">0.01</text>
<text y="1575.90">-0.02</text>
</g>
<g transform="translate(734.13 0) scale(0.92 1)">
<text y="266.10">-0.02</text>
<text y="309.76">0.13</text>
<text y="353.42">0.17</text>
<text y="397.08">-0.01</text>
<text y="440.74">-0.01</text>
<text y="484.40">0.24</text>
<text y="528.06">0.06</text>
<text y="571.72">-0.02</text>
<text y="615.38">0.06</text>
<text y="659.04">0.43</text>
<text y="702.70">1</text>
<text y="746.36">0.08</text>
<text y="790.02">-0.3</text>
<text y="833.68">0.27</text>
<text y="877.34">0.51</text>
<text y="921.00">0</text>
<text y="964.66">0.01</text>
<text y="1008.32">-0.03</text>
<text y="1051.98">0.04</text>
<text y="1095.64">-0.06</text>
<text y="1139.30">-0.08</text>
<text y="1182.96">-0.03</text>
<text y="1226.62">-0.03</text>
<text y="1270.28">-0.07</text>
<text y="1313.94">-0.04</text>
<text y="1357.60">0.21</text>
<text y="1401.26">-0.11</text>
<text y="1444.92">0.32</text>
<text y="1488.58">-0.24</text>
<text y="1532.24">0.04</text>
<text y="1575.90">0</text>
</g>
<g transform="translate(777.81 0) scale(0.92 1)">
<text y="266.10">-0.02</text>
<text y="309.76">-0.09</text>
<text y="353.42">-0.08</text>
<text y="397.08">-0.09</text>
<text y="440.74">0.02</text>
<text y="484.40">0.23</text>
<text y="528.06">0.15</text>
<text y="571.72">-0.01</text>
<text y="615.38">0.16</text>
<text y="659.04">0.08</text>
<text y="702.70">0.08</text>
<text y="746.36">1</text>
<text y="790.02">-0.1</text>
<text y="833.68">0.02</text>
<text y="877.34">-0.24</text>
<text y="921.00">0.39</text>
<text y="964.66">-0.18</text>
<text y="1008.32">-0.17</text>
<text y="1051.98">-0.13</text>
<text y="1095.64">-0.09</text>
<text y="1139.30">-0.08</text>
<text y="1182.96">-0.01</text>
<text y="1226.62">0.1</text>
<text y="1270.28">0.1</text>
<text y="1313.94">0.2</text>
<text y="1357.60">0.19</text>
<text y="1401.26">0.25</text>
<text y="1444.92">0</text>
<text y="1488.58">0.21</text>
<text y="1532.24">-0.07</text>
<text y="1575.90">0.15</text>
</g>
<g transform="translate(821.50 0) scale(0.92 1)">
<text y="266.10">-0.28</text>
<text y="309.76">-0.41</text>
<text y="353.42">-0.14</text>
<text y="397.08">0</text>
<text y="440.74">0.16</text>
<text y="484.40">0.14</text>
<text y="528.06">0.12</text>
<text y="571.72">0.04</text>
<text y="615.38">0.51</text>
<text y="659.04">-0.53</text>
<text y="702.70">-0.3</text>
<text y="746.36">-0.1</text>
<text y="790.02">1</text>
<text y="833.68">-0.7</text>
<text y="877.34">-0.31</text>
<text y="921.00">0</text>
<text y="964.66">-0.25</text>
<text y="1008.32">-0.06</text>
<text y="1051.98">-0.2</text>
<text y="1095.64">0.14</text>
<text y="1139.30">0.09</text>
<text y="1182.96">-0.06</text>
<text y="1226.62">0.23</text>
<text y="1270.28">0.3</text>
<text y="1313.94">0.01</text>
<text y="1357.60">0.02</text>
<text y="1401.26">0.3</text>
<text y="1444.92">-0.26</text>
<text y="1488.58">0.1</text>
<text y="1532.24">0.18</text>
<text y="1575.90">-0.01</text>
</g>
<g transform="translate(865.18 0) scale(0.92 1)">
<text y="266.10">0.29</text>
<text y="309.76">0.41</text>
<text y="353.42">0.14</text>
<text y="397.08">0.14</text>
<text y="440.74">-0.24</text>
<text y="484.40">-0.15</text>
<text y="528.06">-0.05</text>
<text y="571.72">-0.15</text>
<text y="615.38">-0.46</text>
<text y="659.04">0.38</text>
<text y="702.70">0.27</text>
<text y="746.36">0.02</text>
<text y="790.02">-0.7</text>
<text y="833.68">1</text>
<text y="877.34">0.3</text>
<text y="921.00">-0.08</text>
<text y="964.66">0.32</text>
<text y="1008.32">0.13</text>
<text y="1051.98">0.24</text>
<text y="1095.64">-0.1</text>
<text y="1139.30">-0.09</text>
<text y="1182.96">0.04</text>
<text y="1226.62">-0.16</text>
<text y="1270.28">-0.29</text>
<text y="1313.94">-0.09</text>
<text y="1357.60">0.01</text>
<text y="1401.26">-0.19</text>
<text y="1444.92">0.19</text>
<text y="1488.58">-0.14</text>
<text y="1532.24">-0.11</text>
<text y="1575.90">0.01</text>
</g>
<g transform="translate(908.86 0) scale(0.92 1)">
<text y="266.10">0.23</text>
<text y="309.76">0.18</text>
<text y="353.42">-0.06</text>
<text y="397.08">-0.13</text>
<text y="440.74">-0.2</text>
<text y="484.40">-0.15</text>
<text y="528.06">-0.19</text>
<text y="571.72">-0.11</text>
<text y="615.38">-0.34</text>
<text y="659.04">0.18</text>
<text y="702.70">0.51</text>
<text y="746.36">-0.24</text>
<text y="790.02">-0.31</text>
<text y="833.68">0.3</text>
<text y="877.34">1</text>
<text y="921.00">-0.11</text>
<text y="964.66">0.16</text>
<text y="1008.32">-0.02</text>
<text y="1051.98">0.17</text>
<text y="1095.64">-0.07</text>
<text y="1139.30">-0.07</text>
<text y="1182.96">-0.01</text>
<text y="1226.62">-0.2</text>
<text y="1270.28">-0.25</text>
<text y="1313.94">-0.05</text>
<text y="1357.60">0.07</text>
<text y="1401.26">-0.2</text>
<text y="1444.92">0.26</text>
<text y="1488.58">-0.12</text>
<text y="1532.24">-0.08</text>
<text y="1575.90">-0.15</text>
</g>
<g transform="translate(952.55 0) scale(0.92 1)">
<text y="266.10">0.17</text>
<text y="309.76">-0.08</text>
<text y="353.42">-0.27</text>
<text y="397.08">-0.09</text>
<text y="440.74">0.06</text>
<text y="484.40">-0.04</text>
<text y="528.06">0.19</text>
<text y="571.72">0.04</text>
<text y="615.38">-0.08</text>
<text y="659.04">-0.04</text>
<text y="702.70">0</text>
<text y="746.36">0.39</text>
<text y="790.02">0</text>
<text y="833.68">-0.08</text>
<text y="877.34">-0.11</text>
<text y="921.00">1</text>
<text y="964.66">-0.26</text>
<text y="1008.32">0.03</text>
<text y="1051.98">-0.21</text>
<text y="1095.64">-0.11</text>
<text y="1139.30">-0.08</text>
<text y="1182.96">-0.09</text>
<text y="1226.62">0.02</text>
<text y="1270.28">0.01</text>
<text y="1313.94">0.21</text>
<text y="1357.60">-0.09</text>
<text y="1401.26">0.09</text>
<text y="1444.92">-0.18</text>
<text y="1488.58">0.14</text>
<text y="1532.24">-0.07</text>
<text y="1575.90">-0.1</text>
</g>
<g transform="translate(996.23 0) scale(0.92 1)">
<text y="266.10">0.1</text>
<text y="309.76">0.26</text>
<text y="353.42">0.17</text>
<text y="397.08">0.09</text>
<text y="440.74">-0.33</text>
<text y="484.40">-0.17</text>
<text y="528.06">-0.4</text>
<text y="571.72">-0.21</text>
<text y="615.38">-0.28</text>
<text y="659.04">0.05</text>
<text y="702.70">0.01</text>
<text y="746.36">-0.18</text>
<text y="790.02">-0.25</text>
<text y="833.68">0.32</text>
<text y="877.34">0.16</text>
<text y="921.00">-0.26</text>
<text y="964.66">1</text>
<text y="1008.32">0.63</text>
<text y="1051.98">0.73</text>
<text y="1095.64">0.34</text>
<text y="1139.30">0.07</text>
<text y="1182.96">0.33</text>
<text y="1226.62">-0.3</text>
<text y="1270.28">-0.19</text>
<text y="1313.94">-0.07</text>
<text y="1357.60">-0.19</text>
<text y="1401.26">-0.31</text>
<text y="1444.92">0.07</text>
<text y="1488.58">-0.23</text>
<text y="1532.24">0.05</text>
<text y="1575.90">0.13</text>
</g>
<g transform="translate(1039.91 0) scale(0.92 1)">
<text y="266.10">-0.03</text>
<text y="309.76">0.02</text>
<text y="353.42">0.05</text>
<text y="397.08">0.11</text>
<text y="440.74">-0.1</text>
<text y="484.40">-0.18</text>
<text y="528.06">-0.19</text>
<text y="571.72">-0.05</text>
<text y="615.38">-0.17</text>
<text y="659.04">-0.03</text>
<text y="702.70">-0.03</text>
<text y="746.36">-0.17</text>
<text y="790.02">-0.06</text>
<text y="833.68">0.13</text>
<text y="877.34">-0.02</text>
<text y="921.00">0.03</text>
<text y="964.66">0.63</text>
<text y="1008.32">1</text>
<text y="1051.98">0.35</text>
<text y="1095.64">0.24</text>
<text y="1139.30">0.08</text>
<text y="1182.96">0.07</text>
<text y="1226.62">-0.05</text>
<text y="1270.28">-0.02</text>
<text y="1313.94">-0.15</text>
<text y="1357.60">-0.53</text>
<text y="1401.26">-0.21</text>
<text y="1444.92">-0.39</text>
<text y="1488.58">-0.22</text>
<text y="1532.24">0.22</text>
<text y="1575.90">0.11</text>
</g>
<g transform="translate(1083.59 0) scale(0.92 1)">
<text y="266.10">0.01</text>
<text y="309.76">0.17</text>
<text y="353.42">0.18</text>
<text y="397.08">-0.09</text>
<text y="440.74">-0.36</text>
<text y="484.40">-0.18</text>
<text y="528.06">-0.45</text>
<text y="571.72">-0.24</text>
<text y="615.38">-0.23</text>
<text y="659.04">-0.01</text>
<text y="702.70">0.04</text>
<text y="746.36">-0.13</text>
<text y="790.02">-0.2</text>
<text y="833.68">0.24</text>
<text y="877.34">0.17</text>
<text y="921.00">-0.21</text>
<text y="964.66">0.73</text>
<text y="1008.32">0.35</text>
<text y="1051.98">1</text>
<text y="1095.64">0.26</text>
<text y="1139.30">-0.02</text>
<text y="1182.96">0.46</text>
<text y="1226.62">-0.44</text>
<text y="1270.28">-0.26</text>
<text y="1313.94">0.09</text>
<text y="1357.60">-0.13</text>
<text y="1401.26">-0.3</text>
<text y="1444.92">0.13</text>
<text y="1488.58">-0.3</text>
<text y="1532.24">-0.01</text>
<text y="1575.90">0.12</text>
</g>
<g transform="translate(1127.28 0) scale(0.92 1)">
<text y="266.10">-0.16</text>
<text y="309.76">-0.03</text>
<text y="353.42">0.14</text>
<text y="397.08">0.1</text>
<text y="440.74">-0.14</text>
<text y="484.40">-0.06</text>
<text y="528.06">-0.22</text>
<text y="571.72">-0.19</text>
<text y="615.38">0.02</text>
<text y="659.04">-0.16</text>
<text y="702.70">-0.06</text>
<text y="746.36">-0.09</text>
<text y="790.02">0.14</text>
<text y="833.68">-0.1</text>
<text y="877.34">-0.07</text>
<text y="921.00">-0.11</text>
<text y="964.66">0.34</text>
<text y="1008.32">0.24</text>
<text y="1051.98">0.26</text>
<text y="1095.64">1</text>
<text y="1139.30">0.62</text>
<text y="1182.96">0.18</text>
<text y="1226.62">0.1</text>
<text y="1270.28">0.01</text>
<text y="1313.94">-0.1</text>
<text y="1357.60">-0.07</text>
<text y="1401.26">-0.17</text>
<text y="1444.92">0.07</text>
<text y="1488.58">-0.11</text>
<text y="1532.24">0.08</text>
<text y="1575.90">0.19</text>
</g>
<g transform="translate(1170.96 0) scale(0.92 1)">
<text y="266.10">-0.13</text>
<text y="309.76">-0.06</text>
<text y="353.42">0.07</text>
<text y="397.08">0.1</text>
<text y="440.74">-0.01</text>
<text y="484.40">-0.09</text>
<text y="528.06">0.05</text>
<text y="571.72">-0.03</text>
<text y="615.38">-0.01</text>
<text y="659.04">-0.11</text>
<text y="702.70">-0.08</text>
<text y="746.36">-0.08</text>
<text y="790.02">0.09</text>
<text y="833.68">-0.09</text>
<text y="877.34">-0.07</text>
<text y="921.00">-0.08</text>
<text y="964.66">0.07</text>
<text y="1008.32">0.08</text>
<text y="1051.98">-0.02</text>
<text y="1095.64">0.62</text>
<text y="1139.30">1</text>
<text y="1182.96">-0.37</text>
<text y="1226.62">0.34</text>
<text y="1270.28">0.14</text>
<text y="1313.94">-0.25</text>
<text y="1357.60">0.09</text>
<text y="1401.26">0.06</text>
<text y="1444.92">0.05</text>
<text y="1488.58">0.08</text>
<text y="1532.24">0.05</text>
<text y="1575.90">0.04</text>
</g>
<g transform="translate(1214.64 0) scale(0.92 1)">
<text y="266.10">0.1</text>
<text y="309.76">0.23</text>
<text y="353.42">0.14</text>
<text y="397.08">-0.02</text>
<text y="440.74">-0.28</text>
<text y="484.40">-0.02</text>
<text y="528.06">-0.36</text>
<text y="571.72">-0.29</text>
<text y="615.38">-0.04</text>
<text y="659.04">0.01</text>
<text y="702.70">-0.03</text>
<text y="746.36">-0.01</text>
<text y="790.02">-0.06</text>
<text y="833.68">0.04</text>
<text y="877.34">-0.01</text>
<text y="921.00">-0.09</text>
<text y="964.66">0.33</text>
<text y="1008.32">0.07</text>
<text y="1051.98">0.46</text>
<text y="1095.64">0.18</text>
<text y="1139.30">-0.37</text>
<text y="1182.96">1</text>
<text y="1226.62">-0.39</text>
<text y="1270.28">-0.15</text>
<text y="1313.94">0.18</text>
<text y="1357.60">-0.15</text>
<text y="1401.26">-0.34</text>
<text y="1444.92">0.12</text>
<text y="1488.58">-0.26</text>
<text y="1532.24">-0.08</text>
<text y="1575.90">0.09</text>
</g>
<g transform="translate(1258.33 0) scale(0.92 1)">
<text y="266.10">-0.11</text>
<text y="309.76">-0.13</text>
<text y="353.42">-0.02</text>
<text y="397.08">0.19</text>
<text y="440.74">0.19</text>
<text y="484.40">0.25</text>
<text y="528.06">0.32</text>
<text y="571.72">0.13</text>
<text y="615.38">0.32</text>
<text y="659.04">0.01</text>
<text y="702.70">-0.03</text>
<text y="746.36">0.1</text>
<text y="790.02">0.23</text>
<text y="833.68">-0.16</text>
<text y="877.34">-0.2</text>
<text y="921.00">0.02</text>
<text y="964.66">-0.3</text>
<text y="1008.32">-0.05</text>
<text y="1051.98">-0.44</text>
<text y="1095.64">0.1</text>
<text y="1139.30">0.34</text>
<text y="1182.96">-0.39</text>
<text y="1226.62">1</text>
<text y="1270.28">0.22</text>
<text y="1313.94">-0.05</text>
<text y="1357.60">0</text>
<text y="1401.26">0.24</text>
<text y="1444.92">-0.2</text>
<text y="1488.58">0.24</text>
<text y="1532.24">0.21</text>
<text y="1575.90">0.04</text>
</g>
<g transform="translate(1302.01 0) scale(0.92 1)">
<text y="266.10">-0.33</text>
<text y="309.76">-0.17</text>
<text y="353.42">0.18</text>
<text y="397.08">0.12</text>
<text y="440.74">0.27</text>
<text y="484.40">0.1</text>
<text y="528.06">0.22</text>
<text y="571.72">0.16</text>
<text y="615.38">0.25</text>
<text y="659.04">-0.21</text>
<text y="702.70">-0.07</text>
<text y="746.36">0.1</text>
<text y="790.02">0.3</text>
<text y="833.68">-0.29</text>
<text y="877.34">-0.25</text>
<text y="921.00">0.01</text>
<text y="964.66">-0.19</text>
<text y="1008.32">-0.02</text>
<text y="1051.98">-0.26</text>
<text y="1095.64">0.01</text>
<text y="1139.30">0.14</text>
<text y="1182.96">-0.15</text>
<text y="1226.62">0.22</text>
<text y="1270.28">1</text>
<text y="1313.94">0</text>
<text y="1357.60">0.2</text>
<text y="1401.26">0.33</text>
<text y="1444.92">-0.07</text>
<text y="1488.58">0.07</text>
<text y="1532.24">0.06</text>
<text y="1575.90">0.15</text>
</g>
<g transform="translate(1345.69 0) scale(0.92 1)">
<text y="266.10">0.16</text>
<text y="309.76">-0.02</text>
<text y="353.42">-0.19</text>
<text y="397.08">-0.09</text>
<text y="440.74">-0.06</text>
<text y="484.40">0.08</text>
<text y="528.06">0.01</text>
<text y="571.72">-0.01</text>
<text y="615.38">0.07</text>
<text y="659.04">-0.04</text>
<text y="702.70">-0.04</text>
<text y="746.36">0.2</text>
<text y="790.02">0.01</text>
<text y="833.68">-0.09</text>
<text y="877.34">-0.05</text>
<text y="921.00">0.21</text>
<text y="964.66">-0.07</text>
<text y="1008.32">-0.15</text>
<text y="1051.98">0.09</text>
<text y="1095.64">-0.1</text>
<text y="1139.30">-0.25</text>
<text y="1182.96">0.18</text>
<text y="1226.62">-0.05</text>
<text y="1270.28">0</text>
<text y="1313.94">1</text>
<text y="1357.60">-0.04</text>
<text y="1401.26">0.04</text>
<text y="1444.92">-0.09</text>
<text y="1488.58">0.16</text>
<text y="1532.24">-0.06</text>
<text y="1575.90">0.1</text>
</g>
<g transform="translate(1389.38 0) scale(0.92 1)">
<text y="266.10">-0.11</text>
<text y="309.76">-0.01</text>
<text y="353.42">0.11</text>
<text y="397.08">-0.05</text>
<text y="440.74">0.12</text>
<text y="484.40">0.17</text>
<text y="528.06">0.27</text>
<text y="571.72">0.1</text>
<text y="615.38">0.13</text>
<text y="659.04">0.12</text>
<text y="702.70">0.21</text>
<text y="746.36">0.19</text>
<text y="790.02">0.02</text>
<text y="833.68">0.01</text>
<text y="877.34">0.07</text>
<text y="921.00">-0.09</text>
<text y="964.66">-0.19</text>
<text y="1008.32">-0.53</text>
<text y="1051.98">-0.13</text>
<text y="1095.64">-0.07</text>
<text y="1139.30">0.09</text>
<text y="1182.96">-0.15</text>
<text y="1226.62">0</text>
<text y="1270.28">0.2</text>
<text y="1313.94">-0.04</text>
<text y="1357.60">1</text>
<text y="1401.26">0.5</text>
<text y="1444.92">0.67</text>
<text y="1488.58">0.24</text>
<text y="1532.24">-0.05</text>
<text y="1575.90">-0.08</text>
</g>
<g transform="translate(1433.06 0) scale(0.92 1)">
<text y="266.10">-0.06</text>
<text y="309.76">-0.32</text>
<text y="353.42">-0.28</text>
<text y="397.08">-0.15</text>
<text y="440.74">0.21</text>
<text y="484.40">0.12</text>
<text y="528.06">0.4</text>
<text y="571.72">0.2</text>
<text y="615.38">0.25</text>
<text y="659.04">-0.19</text>
<text y="702.70">-0.11</text>
<text y="746.36">0.25</text>
<text y="790.02">0.3</text>
<text y="833.68">-0.19</text>
<text y="877.34">-0.2</text>
<text y="921.00">0.09</text>
<text y="964.66">-0.31</text>
<text y="1008.32">-0.21</text>
<text y="1051.98">-0.3</text>
<text y="1095.64">-0.17</text>
<text y="1139.30">0.06</text>
<text y="1182.96">-0.34</text>
<text y="1226.62">0.24</text>
<text y="1270.28">0.33</text>
<text y="1313.94">0.04</text>
<text y="1357.60">0.5</text>
<text y="1401.26">1</text>
<text y="1444.92">-0.29</text>
<text y="1488.58">0.44</text>
<text y="1532.24">0.12</text>
<text y="1575.90">-0.18</text>
</g>
<g transform="translate(1476.74 0) scale(0.92 1)">
<text y="266.10">-0.05</text>
<text y="309.76">0.28</text>
<text y="353.42">0.36</text>
<text y="397.08">0.04</text>
<text y="440.74">-0.04</text>
<text y="484.40">0.08</text>
<text y="528.06">-0.06</text>
<text y="571.72">-0.06</text>
<text y="615.38">-0.09</text>
<text y="659.04">0.3</text>
<text y="702.70">0.32</text>
<text y="746.36">0</text>
<text y="790.02">-0.26</text>
<text y="833.68">0.19</text>
<text y="877.34">0.26</text>
<text y="921.00">-0.18</text>
<text y="964.66">0.07</text>
<text y="1008.32">-0.39</text>
<text y="1051.98">0.13</text>
<text y="1095.64">0.07</text>
<text y="1139.30">0.05</text>
<text y="1182.96">0.12</text>
<text y="1226.62">-0.2</text>
<text y="1270.28">-0.07</text>
<text y="1313.94">-0.09</text>
<text y="1357.60">0.67</text>
<text y="1401.26">-0.29</text>
<text y="1444.92">1</text>
<text y="1488.58">-0.09</text>
<text y="1532.24">-0.18</text>
<text y="1575.90">0.04</text>
</g>
<g transform="translate(1520.42 0) scale(0.92 1)">
<text y="266.10">0.19</text>
<text y="309.76">-0.12</text>
<text y="353.42">-0.34</text>
<text y="397.08">-0.19</text>
<text y="440.74">0.14</text>
<text y="484.40">0.04</text>
<text y="528.06">0.35</text>
<text y="571.72">0.17</text>
<text y="615.38">0.02</text>
<text y="659.04">-0.02</text>
<text y="702.70">-0.24</text>
<text y="746.36">0.21</text>
<text y="790.02">0.1</text>
<text y="833.68">-0.14</text>
<text y="877.34">-0.12</text>
<text y="921.00">0.14</text>
<text y="964.66">-0.23</text>
<text y="1008.32">-0.22</text>
<text y="1051.98">-0.3</text>
<text y="1095.64">-0.11</text>
<text y="1139.30">0.08</text>
<text y="1182.96">-0.26</text>
<text y="1226.62">0.24</text>
<text y="1270.28">0.07</text>
<text y="1313.94">0.16</text>
<text y="1357.60">0.24</text>
<text y="1401.26">0.44</text>
<text y="1444.92">-0.09</text>
<text y="1488.58">1</text>
<text y="1532.24">0.18</text>
<text y="1575.90">-0.05</text>
</g>
<g transform="translate(1564.11 0) scale(0.92 1)">
<text y="266.10">-0.09</text>
<text y="309.76">-0.21</text>
<text y="353.42">-0.13</text>
<text y="397.08">-0.03</text>
<text y="440.74">0.14</text>
<text y="484.40">0.29</text>
<text y="528.06">0.13</text>
<text y="571.72">0.08</text>
<text y="615.38">0.32</text>
<text y="659.04">0.01</text>
<text y="702.70">0.04</text>
<text y="746.36">-0.07</text>
<text y="790.02">0.18</text>
<text y="833.68">-0.11</text>
<text y="877.34">-0.08</text>
<text y="921.00">-0.07</text>
<text y="964.66">0.05</text>
<text y="1008.32">0.22</text>
<text y="1051.98">-0.01</text>
<text y="1095.64">0.08</text>
<text y="1139.30">0.05</text>
<text y="1182.96">-0.08</text>
<text y="1226.62">0.21</text>
<text y="1270.28">0.06</text>
<text y="1313.94">-0.06</text>
<text y="1357.60">-0.05</text>
<text y="1401.26">0.12</text>
<text y="1444.92">-0.18</text>
<text y="1488.58">0.18</text>
<text y="1532.24">1</text>
<text y="1575.90">0.26</text>
</g>
<g transform="translate(1607.79 0) scale(0.92 1)">
<text y="266.10">-0.16</text>
<text y="309.76">-0.05</text>
<text y="353.42">0.12</text>
<text y="397.08">0.09</text>
<text y="440.74">-0.03</text>
<text y="484.40">0.02</text>
<text y="528.06">-0.09</text>
<text y="571.72">-0.15</text>
<text y="615.38">0.05</text>
<text y="659.04">-0.02</text>
<text y="702.70">0</text>
<text y="746.36">0.15</text>
<text y="790.02">-0.01</text>
<text y="833.68">0.01</text>
<text y="877.34">-0.15</text>
<text y="921.00">-0.1</text>
<text y="964.66">0.13</text>
<text y="1008.32">0.11</text>
<text y="1051.98">0.12</text>
<text y="1095.64">0.19</text>
<text y="1139.30">0.04</text>
<text y="1182.96">0.09</text>
<text y="1226.62">0.04</text>
<text y="1270.28">0.15</text>
<text y="1313.94">0.1</text>
<text y="1357.60">-0.08</text>
<text y="1401.26">-0.18</text>
<text y="1444.92">0.04</text>
<text y="1488.58">-0.05</text>
<text y="1532.24">0.26</text>
<text y="1575.90">1</text>
</g>
</g>
<g font-family="'Liberation Sans', Arial, Helvetica, sans-serif" font-size="27.15" fill="#000" text-anchor="end">
<text x="260.0" y="267.80">exp tissue day</text>
<text x="260.0" y="311.46">LT tissue day</text>
<text x="252.4" y="355.12">process day</text>
<text x="260.0" y="398.78">process grade</text>
<text x="260.0" y="442.44">RBC change</text>
<text x="260.0" y="486.10">WBC change</text>
<text x="260.0" y="529.76">PLT change</text>
<text x="260.0" y="573.42">HB change</text>
<text x="260.0" y="617.08">LYM change</text>
<text x="260.0" y="660.74">NE change</text>
<text x="260.0" y="704.40">PBMC change</text>
<text x="260.0" y="748.06">E change</text>
<text x="260.0" y="791.72">LYM% change</text>
<text x="260.0" y="835.38">NE% change</text>
<text x="260.0" y="879.04">PBMC% change</text>
<text x="260.0" y="922.70">E% change</text>
<text x="260.0" y="966.36">TBIL change</text>
<text x="260.0" y="1010.02">DBIL change</text>
<text x="260.0" y="1053.68">IBIL change</text>
<text x="260.0" y="1097.34">AST change</text>
<text x="260.0" y="1141.00">ALT change</text>
<text x="260.0" y="1184.66">AST/ALT change</text>
<text x="260.0" y="1228.32">GGT change</text>
<text x="260.0" y="1271.98">BA change</text>
<text x="260.0" y="1315.64">Cr change</text>
<text x="260.0" y="1359.30">TP change</text>
<text x="260.0" y="1402.96">ALB change</text>
<text x="260.0" y="1446.62">GLB change</text>
<text x="260.0" y="1490.28">PA change</text>
<text x="260.0" y="1533.94">LAC change</text>
<text x="260.0" y="1577.60">SA change</text>
</g>
<g font-family="'Liberation Sans', Arial, Helvetica, sans-serif" font-size="27.15" fill="#000">
<text transform="translate(306.90 218.1) rotate(-90)">exp tissue day</text>
<text transform="translate(350.58 218.1) rotate(-90)">LT tissue day</text>
<text transform="translate(394.27 218.1) rotate(-90)">process day</text>
<text transform="translate(437.95 218.1) rotate(-90)">process grade</text>
<text transform="translate(481.63 218.1) rotate(-90)">RBC change</text>
<text transform="translate(525.32 218.1) rotate(-90)">WBC change</text>
<text transform="translate(569.00 218.1) rotate(-90)">PLT change</text>
<text transform="translate(612.68 218.1) rotate(-90)">HB change</text>
<text transform="translate(656.36 218.1) rotate(-90)">LYM change</text>
<text transform="translate(700.05 218.1) rotate(-90)">NE change</text>
<text transform="translate(743.73 218.1) rotate(-90)">PBMC change</text>
<text transform="translate(787.41 218.1) rotate(-90)">E change</text>
<text transform="translate(831.10 218.1) rotate(-90)">LYM% change</text>
<text transform="translate(874.78 218.1) rotate(-90)">NE% change</text>
<text transform="translate(918.46 218.1) rotate(-90)">PBMC% change</text>
<text transform="translate(962.15 218.1) rotate(-90)">E% change</text>
<text transform="translate(1005.83 218.1) rotate(-90)">TBIL change</text>
<text transform="translate(1049.51 218.1) rotate(-90)">DBIL change</text>
<text transform="translate(1093.19 218.1) rotate(-90)">IBIL change</text>
<text transform="translate(1136.88 218.1) rotate(-90)">AST change</text>
<text transform="translate(1180.56 218.1) rotate(-90)">ALT change</text>
<text transform="translate(1224.24 218.1) rotate(-90)">AST/ALT change</text>
<text transform="translate(1267.93 218.1) rotate(-90)">GGT change</text>
<text transform="translate(1311.61 218.1) rotate(-90)">TBA change</text>
<text transform="translate(1355.29 218.1) rotate(-90)">Cr change</text>
<text transform="translate(1398.97 218.1) rotate(-90)">TP change</text>
<text transform="translate(1442.66 218.1) rotate(-90)">ALB change</text>
<text transform="translate(1486.34 218.1) rotate(-90)">GLB change</text>
<text transform="translate(1530.02 218.1) rotate(-90)">PA change</text>
<text transform="translate(1573.71 218.1) rotate(-90)">LAC change</text>
<text transform="translate(1617.39 218.1) rotate(-90)">SA change</text>
</g>
<defs><linearGradient id="cb" x1="0" y1="0" x2="0" y2="1">
<stop offset="0.000" stop-color="#1b3866"/>
<stop offset="0.100" stop-color="#2264a8"/>
<stop offset="0.200" stop-color="#448fc0"/>
<stop offset="0.300" stop-color="#91c2dc"/>
<stop offset="0.400" stop-color="#d0e3ef"/>
<stop offset="0.500" stop-color="#ffffff"/>
<stop offset="0.600" stop-color="#fbdac7"/>
<stop offset="0.700" stop-color="#eea282"/>
<stop offset="0.800" stop-color="#cf5e4d"/>
<stop offset="0.900" stop-color="#b21e2d"/>
<stop offset="1.000" stop-color="#6e1426"/>
</linearGradient></defs>
<rect x="1672.2" y="237.5" width="24.10" height="629.00" fill="url(#cb)" stroke="#111" stroke-width="1.2"/>
<g stroke="#111" stroke-width="1.3">
<line x1="1696.3" y1="237.50" x2="1701.10" y2="237.50"/>
<line x1="1696.3" y1="300.40" x2="1701.10" y2="300.40"/>
<line x1="1696.3" y1="363.30" x2="1701.10" y2="363.30"/>
<line x1="1696.3" y1="426.20" x2="1701.10" y2="426.20"/>
<line x1="1696.3" y1="489.10" x2="1701.10" y2="489.10"/>
<line x1="1696.3" y1="552.00" x2="1701.10" y2="552.00"/>
<line x1="1696.3" y1="614.90" x2="1701.10" y2="614.90"/>
<line x1="1696.3" y1="677.80" x2="1701.10" y2="677.80"/>
<line x1="1696.3" y1="740.70" x2="1701.10" y2="740.70"/>
<line x1="1696.3" y1="803.60" x2="1701.10" y2="803.60"/>
<line x1="1696.3" y1="866.50" x2="1701.10" y2="866.50"/>
</g>
<g font-family="'Liberation Sans', Arial, Helvetica, sans-serif" font-size="27.15" fill="#000">
<text x="1710.2" y="245.70">1</text>
<text x="1710.2" y="308.60">0.8</text>
<text x="1710.2" y="371.50">0.6</text>
<text x="1710.2" y="434.40">0.4</text>
<text x="1710.2" y="497.30">0.2</text>
<text x="1710.2" y="560.20">0</text>
<text x="1710.2" y="623.10">-0.2</text>
<text x="1710.2" y="686.00">-0.4</text>
<text x="1710.2" y="748.90">-0.6</text>
<text x="1710.2" y="811.80">-0.8</text>
<text x="1710.2" y="874.70">-1</text>
</g>
<g font-family="'Liberation Sans', Arial, Helvetica, sans-serif" fill="#1a1311">
<text transform="translate(53.4 40) scale(0.965 1)" font-size="48.2">A</text>
<text transform="translate(25.4 1658.0) scale(1.035 1)" font-size="47.4">B</text>
<text transform="translate(1001.2 1663.9) scale(0.93 1)" font-size="50.2">C</text>
</g>
<g id="panelB">
<polyline points="121.4,1802.0 300.0,1799.4 499.8,1794.6 549.9,1793.0 612.3,1790.6 650.0,1787.5 679.8,1783.7 699.8,1777.4 704.9,1776.2 742.4,1763.7 762.4,1756.4" fill="none" stroke="#52b8c6" stroke-width="2.5" stroke-linejoin="round" stroke-linecap="butt"/>
<polyline points="121.4,1819.2 185.0,1818.4 234.9,1817.0 284.9,1812.4 322.4,1806.7 362.3,1800.6 397.3,1792.0 422.3,1783.7 447.3,1773.2 459.8,1766.2 469.8,1763.5 499.8,1763.0 524.9,1763.7 599.9,1765.2 649.8,1764.2 699.8,1761.5 724.8,1758.7 740.0,1757.2 760.0,1756.3" fill="none" stroke="#5fb648" stroke-width="2.5" stroke-linejoin="round" stroke-linecap="butt"/>
<polyline points="470.0,1756.4 520.0,1757.6 560.0,1758.6 640.0,1758.8 700.0,1758.0 740.0,1756.6" fill="none" stroke="#5fb648" stroke-width="1.8" stroke-linejoin="round" stroke-linecap="butt"/>
<polyline points="121.4,1826.0 185.0,1825.2 234.9,1823.7 284.9,1819.4 322.4,1813.7 362.3,1807.4 372.4,1804.2 381.0,1803.5 390.0,1800.0 398.5,1798.4 422.3,1790.0 447.3,1779.0 462.4,1771.2 472.4,1769.2 487.4,1768.7 497.4,1766.2 512.4,1759.0 530.0,1757.8 560.0,1757.2 585.0,1756.3" fill="none" stroke="#2e7ab3" stroke-width="2.5" stroke-linejoin="round" stroke-linecap="butt"/>
<polyline points="121.4,1757.0 700.0,1756.8 790.0,1756.2" fill="none" stroke="#52b8c6" stroke-width="3.2" stroke-linejoin="round" stroke-linecap="butt"/>
<polyline points="121.4,1754.8 400.0,1755.0 600.0,1756.0" fill="none" stroke="#2e7ab3" stroke-width="2.0" stroke-linejoin="round" stroke-linecap="butt"/>
<polyline points="380.0,1756.0 387.5,1753.0 400.0,1750.0 412.4,1747.5 437.4,1745.5 460.0,1744.8 474.9,1745.0 512.4,1747.0 549.9,1750.0 574.9,1753.0 599.9,1755.2 615.0,1756.2" fill="none" stroke="#52b8c6" stroke-width="2.5" stroke-linejoin="round" stroke-linecap="butt"/>
<polyline points="121.4,1778.2 185.0,1780.4 234.9,1783.0 284.9,1787.4 322.4,1789.4 362.3,1790.0 369.8,1788.0 379.8,1787.2 389.8,1784.6 397.3,1783.9 407.0,1780.2 425.0,1777.0 450.0,1773.7 462.4,1773.0 480.0,1772.8 504.9,1771.6 525.0,1766.6 550.0,1760.4 562.0,1757.0" fill="none" stroke="#962f8f" stroke-width="2.5" stroke-linejoin="round" stroke-linecap="butt"/>
<polyline points="121.4,1765.7 234.9,1766.7 359.8,1768.2 422.3,1770.6 462.4,1772.6 480.0,1772.2 504.9,1771.0 525.0,1766.0 550.0,1759.8 561.0,1756.8" fill="none" stroke="#c8475e" stroke-width="2.5" stroke-linejoin="round" stroke-linecap="butt"/>
<polyline points="121.4,1699.0 185.0,1699.5 234.9,1701.2 284.9,1705.5 322.4,1710.7 362.3,1717.5 379.8,1721.7 397.3,1727.0 422.3,1736.2 447.3,1748.0 462.4,1754.6 472.0,1756.2" fill="none" stroke="#c8475e" stroke-width="2.5" stroke-linejoin="round" stroke-linecap="butt"/>
<polyline points="121.4,1748.0 400.0,1747.8 560.0,1748.4 680.0,1749.2 720.0,1751.0 760.0,1753.4 800.0,1754.4 837.0,1755.1 870.6,1756.2" fill="none" stroke="#c8475e" stroke-width="2.0" stroke-linejoin="round" stroke-linecap="butt"/>
<polyline points="121.4,1752.9 400.0,1753.4 700.0,1755.0 790.0,1756.2 870.6,1756.2" fill="none" stroke="#962f8f" stroke-width="2.4" stroke-linejoin="round" stroke-linecap="butt"/>
<polyline points="121.4,1750.0 309.9,1749.4 420.0,1748.6 499.8,1747.3 549.9,1745.5 612.3,1744.5 630.0,1745.0 654.9,1746.4 699.8,1750.6 740.0,1753.3 780.0,1755.9 792.0,1756.2" fill="none" stroke="#000" stroke-width="2.4" stroke-linejoin="round" stroke-linecap="butt"/>
<polyline points="121.4,1735.0 300.0,1735.2 499.8,1735.8 560.0,1735.4 617.3,1734.8 630.0,1735.3 654.9,1738.5 679.9,1742.2 702.4,1746.9 729.9,1750.0 754.9,1753.7 779.9,1755.8 792.0,1756.2" fill="none" stroke="#000" stroke-width="2.4" stroke-linejoin="round" stroke-linecap="butt"/>
<polyline points="121.4,2158.9 172.4,2158.1 228.7,2156.6 303.6,2153.6 359.8,2149.5 397.3,2144.8 419.8,2140.9 434.8,2135.6 462.9,2121.0 483.5,2107.9 504.1,2092.5 521.0,2073.0 536.0,2054.3 551.0,2029.9 566.0,2003.7 584.7,1966.2 603.5,1932.5 622.2,1906.2 637.2,1890.1 650.0,1884.5 665.3,1879.2 679.9,1872.6 692.0,1865.5 704.9,1856.7 718.0,1843.5 729.9,1829.9 740.0,1814.9 754.9,1798.5 762.0,1788.0 769.9,1773.0 776.0,1762.5 779.9,1759.2 786.1,1756.8 792.0,1756.2" fill="none" stroke="#962f8f" stroke-width="2.5" stroke-linejoin="round" stroke-linecap="butt"/>
<line x1="836.8" y1="1680.4" x2="836.8" y2="2177.0" stroke="#000" stroke-width="2.4" stroke-dasharray="4.4 2.1"/>
<line x1="870.3" y1="1680.4" x2="870.3" y2="2177.0" stroke="#000" stroke-width="2.4" stroke-dasharray="4.4 2.1"/>
<rect x="91.8" y="1680.4" width="808.6" height="496.6" fill="none" stroke="#000" stroke-width="2"/>
<g stroke="#000" stroke-width="1.3">
<line x1="172.0" y1="2177.0" x2="172.0" y2="2184.0"/>
<line x1="172.0" y1="1680.4" x2="172.0" y2="1674.9"/>
<line x1="350.8" y1="2177.0" x2="350.8" y2="2184.0"/>
<line x1="350.8" y1="1680.4" x2="350.8" y2="1674.9"/>
<line x1="529.6" y1="2177.0" x2="529.6" y2="2184.0"/>
<line x1="529.6" y1="1680.4" x2="529.6" y2="1674.9"/>
<line x1="708.4" y1="2177.0" x2="708.4" y2="2184.0"/>
<line x1="708.4" y1="1680.4" x2="708.4" y2="1674.9"/>
<line x1="887.2" y1="2177.0" x2="887.2" y2="2184.0"/>
<line x1="887.2" y1="1680.4" x2="887.2" y2="1674.9"/>
<line x1="91.8" y1="1756.2" x2="84.8" y2="1756.2"/>
<line x1="91.8" y1="1902.4" x2="84.8" y2="1902.4"/>
<line x1="91.8" y1="2048.6" x2="84.8" y2="2048.6"/>
</g>
<g font-family="'Liberation Sans', Arial, Helvetica, sans-serif" font-size="27.2" fill="#000" text-anchor="middle">
<text x="173.3" y="1668.6">15</text>
<text x="352.1" y="1668.6">15</text>
<text x="530.9" y="1668.6">16</text>
<text x="709.7" y="1668.6">10</text>
<text x="888.5" y="1668.6">0</text>
<text x="175.2" y="2217">-10</text>
<text x="352.9" y="2217">-8</text>
<text x="530.6" y="2217">-6</text>
<text x="708.2" y="2217">-4</text>
<text x="885.9" y="2217">-2</text>
<text transform="translate(75.6 1756.2) rotate(-90)">0.0</text>
<text transform="translate(75.6 1930.7) rotate(-90)" text-anchor="start">-0.5</text>
<text transform="translate(75.6 2076.9) rotate(-90)" text-anchor="start">-1.0</text>
<text x="455.3" y="2256.9">Log Lambda</text>
<text transform="translate(26.2 1921.8) rotate(-90)">Coefficients</text>
</g></g>
<g id="panelC">
<path d="M1112.8 1697.5V2037.7M1105.5 1697.5h14.6M1105.5 2037.7h14.6M1122.6 1698.0V2038.0M1115.3 1698.0h14.6M1115.3 2038.0h14.6M1132.4 1698.4V2038.2M1125.1 1698.4h14.6M1125.1 2038.2h14.6M1142.1 1698.8V2038.5M1134.8 1698.8h14.6M1134.8 2038.5h14.6M1151.9 1699.3V2038.8M1144.6 1699.3h14.6M1144.6 2038.8h14.6M1161.7 1699.8V2039.1M1154.4 1699.8h14.6M1154.4 2039.1h14.6M1171.5 1700.2V2039.3M1164.2 1700.2h14.6M1164.2 2039.3h14.6M1181.3 1700.7V2039.6M1174.0 1700.7h14.6M1174.0 2039.6h14.6M1191.0 1701.1V2039.9M1183.7 1701.1h14.6M1183.7 2039.9h14.6M1200.8 1701.5V2040.1M1193.5 1701.5h14.6M1193.5 2040.1h14.6M1210.6 1702.0V2040.4M1203.3 1702.0h14.6M1203.3 2040.4h14.6M1220.4 1702.5V2040.9M1213.1 1702.5h14.6M1213.1 2040.9h14.6M1230.2 1703.1V2041.3M1222.9 1703.1h14.6M1222.9 2041.3h14.6M1239.9 1703.7V2041.8M1232.6 1703.7h14.6M1232.6 2041.8h14.6M1249.7 1704.2V2042.2M1242.4 1704.2h14.6M1242.4 2042.2h14.6M1259.5 1704.8V2042.7M1252.2 1704.8h14.6M1252.2 2042.7h14.6M1269.3 1705.3V2043.1M1262.0 1705.3h14.6M1262.0 2043.1h14.6M1279.1 1705.8V2043.6M1271.8 1705.8h14.6M1271.8 2043.6h14.6M1288.8 1706.4V2044.0M1281.5 1706.4h14.6M1281.5 2044.0h14.6M1298.6 1707.0V2044.5M1291.3 1707.0h14.6M1291.3 2044.5h14.6M1308.4 1707.5V2044.9M1301.1 1707.5h14.6M1301.1 2044.9h14.6M1318.2 1708.0V2045.3M1310.9 1708.0h14.6M1310.9 2045.3h14.6M1328.0 1708.5V2045.7M1320.7 1708.5h14.6M1320.7 2045.7h14.6M1337.7 1709.0V2046.1M1330.4 1709.0h14.6M1330.4 2046.1h14.6M1347.5 1709.5V2046.5M1340.2 1709.5h14.6M1340.2 2046.5h14.6M1357.3 1709.9V2046.9M1350.0 1709.9h14.6M1350.0 2046.9h14.6M1367.1 1710.4V2046.7M1359.8 1710.4h14.6M1359.8 2046.7h14.6M1376.9 1710.9V2046.4M1369.6 1710.9h14.6M1369.6 2046.4h14.6M1386.6 1711.4V2046.2M1379.3 1711.4h14.6M1379.3 2046.2h14.6M1396.4 1712.8V2046.8M1389.1 1712.8h14.6M1389.1 2046.8h14.6M1406.2 1714.3V2047.4M1398.9 1714.3h14.6M1398.9 2047.4h14.6M1416.0 1715.7V2048.9M1408.7 1715.7h14.6M1408.7 2048.9h14.6M1425.8 1717.1V2050.6M1418.5 1717.1h14.6M1418.5 2050.6h14.6M1435.5 1718.2V2052.4M1428.2 1718.2h14.6M1428.2 2052.4h14.6M1445.3 1719.2V2054.1M1438.0 1719.2h14.6M1438.0 2054.1h14.6M1455.1 1721.8V2055.7M1447.8 1721.8h14.6M1447.8 2055.7h14.6M1464.9 1724.4V2058.6M1457.6 1724.4h14.6M1457.6 2058.6h14.6M1474.7 1727.3V2061.1M1467.4 1727.3h14.6M1467.4 2061.1h14.6M1484.4 1730.4V2064.1M1477.1 1730.4h14.6M1477.1 2064.1h14.6M1494.2 1733.6V2066.9M1486.9 1733.6h14.6M1486.9 2066.9h14.6M1504.0 1736.5V2069.4M1496.7 1736.5h14.6M1496.7 2069.4h14.6M1513.8 1739.9V2072.4M1506.5 1739.9h14.6M1506.5 2072.4h14.6M1523.6 1743.3V2075.6M1516.3 1743.3h14.6M1516.3 2075.6h14.6M1533.3 1747.2V2079.9M1526.0 1747.2h14.6M1526.0 2079.9h14.6M1543.1 1751.7V2084.4M1535.8 1751.7h14.6M1535.8 2084.4h14.6M1552.9 1757.0V2089.1M1545.6 1757.0h14.6M1545.6 2089.1h14.6M1562.7 1761.9V2094.1M1555.4 1761.9h14.6M1555.4 2094.1h14.6M1572.5 1767.4V2098.9M1565.2 1767.4h14.6M1565.2 2098.9h14.6M1582.2 1771.9V2103.6M1574.9 1771.9h14.6M1574.9 2103.6h14.6M1592.0 1776.9V2108.4M1584.7 1776.9h14.6M1584.7 2108.4h14.6M1601.8 1781.9V2113.1M1594.5 1781.9h14.6M1594.5 2113.1h14.6M1611.6 1786.6V2117.9M1604.3 1786.6h14.6M1604.3 2117.9h14.6M1621.4 1791.6V2122.4M1614.1 1791.6h14.6M1614.1 2122.4h14.6M1631.1 1795.3V2125.4M1623.8 1795.3h14.6M1623.8 2125.4h14.6M1640.9 1798.9V2127.9M1633.6 1798.9h14.6M1633.6 2127.9h14.6M1650.7 1801.8V2130.4M1643.4 1801.8h14.6M1643.4 2130.4h14.6M1660.5 1805.5V2132.9M1653.2 1805.5h14.6M1653.2 2132.9h14.6M1670.3 1807.8V2134.9M1663.0 1807.8h14.6M1663.0 2134.9h14.6M1680.0 1809.2V2135.6M1672.7 1809.2h14.6M1672.7 2135.6h14.6M1689.8 1809.4V2136.4M1682.5 1809.4h14.6M1682.5 2136.4h14.6M1699.6 1811.8V2138.1M1692.3 1811.8h14.6M1692.3 2138.1h14.6M1709.4 1814.4V2140.4M1702.1 1814.4h14.6M1702.1 2140.4h14.6M1719.2 1816.2V2142.4M1711.9 1816.2h14.6M1711.9 2142.4h14.6M1728.9 1814.9V2143.6M1721.6 1814.9h14.6M1721.6 2143.6h14.6M1738.7 1814.1V2144.4M1731.4 1814.1h14.6M1731.4 2144.4h14.6M1748.5 1814.9V2146.4M1741.2 1814.9h14.6M1741.2 2146.4h14.6M1758.3 1816.8V2149.1M1751.0 1816.8h14.6M1751.0 2149.1h14.6M1768.1 1818.6V2151.6M1760.8 1818.6h14.6M1760.8 2151.6h14.6M1777.8 1823.1V2155.9M1770.5 1823.1h14.6M1770.5 2155.9h14.6M1787.6 1827.5V2159.1M1780.3 1827.5h14.6M1780.3 2159.1h14.6M1797.4 1829.9V2160.9M1790.1 1829.9h14.6M1790.1 2160.9h14.6M1807.2 1830.7V2161.1M1799.9 1830.7h14.6M1799.9 2161.1h14.6M1817.0 1830.4V2159.9M1809.7 1830.4h14.6M1809.7 2159.9h14.6M1826.7 1829.4V2158.9M1819.4 1829.4h14.6M1819.4 2158.9h14.6M1836.5 1827.8V2157.9M1829.2 1827.8h14.6M1829.2 2157.9h14.6M1846.3 1824.6V2156.6M1839.0 1824.6h14.6M1839.0 2156.6h14.6M1856.1 1819.9V2154.9M1848.8 1819.9h14.6M1848.8 2154.9h14.6M1865.9 1816.2V2152.4M1858.6 1816.2h14.6M1858.6 2152.4h14.6" fill="none" stroke="#c2c2c2" stroke-width="1.15"/>
<g fill="#d22a1d">
<circle cx="1112.8" cy="1868.0" r="2.4"/>
<circle cx="1122.6" cy="1868.2" r="2.4"/>
<circle cx="1132.4" cy="1868.4" r="2.4"/>
<circle cx="1142.1" cy="1868.6" r="2.4"/>
<circle cx="1151.9" cy="1868.8" r="2.4"/>
<circle cx="1161.7" cy="1869.0" r="2.4"/>
<circle cx="1171.5" cy="1869.3" r="2.4"/>
<circle cx="1181.3" cy="1869.7" r="2.4"/>
<circle cx="1191.0" cy="1870.0" r="2.4"/>
<circle cx="1200.8" cy="1870.4" r="2.4"/>
<circle cx="1210.6" cy="1870.7" r="2.4"/>
<circle cx="1220.4" cy="1871.2" r="2.4"/>
<circle cx="1230.2" cy="1871.6" r="2.4"/>
<circle cx="1239.9" cy="1872.1" r="2.4"/>
<circle cx="1249.7" cy="1872.5" r="2.4"/>
<circle cx="1259.5" cy="1873.0" r="2.4"/>
<circle cx="1269.3" cy="1873.6" r="2.4"/>
<circle cx="1279.1" cy="1874.3" r="2.4"/>
<circle cx="1288.8" cy="1874.9" r="2.4"/>
<circle cx="1298.6" cy="1875.6" r="2.4"/>
<circle cx="1308.4" cy="1876.2" r="2.4"/>
<circle cx="1318.2" cy="1876.7" r="2.4"/>
<circle cx="1328.0" cy="1877.1" r="2.4"/>
<circle cx="1337.7" cy="1877.6" r="2.4"/>
<circle cx="1347.5" cy="1878.0" r="2.4"/>
<circle cx="1357.3" cy="1878.5" r="2.4"/>
<circle cx="1367.1" cy="1878.6" r="2.4"/>
<circle cx="1376.9" cy="1878.6" r="2.4"/>
<circle cx="1386.6" cy="1878.7" r="2.4"/>
<circle cx="1396.4" cy="1879.2" r="2.4"/>
<circle cx="1406.2" cy="1880.5" r="2.4"/>
<circle cx="1416.0" cy="1882.0" r="2.4"/>
<circle cx="1425.8" cy="1883.7" r="2.4"/>
<circle cx="1435.5" cy="1885.2" r="2.4"/>
<circle cx="1445.3" cy="1886.7" r="2.4"/>
<circle cx="1455.1" cy="1889.0" r="2.4"/>
<circle cx="1464.9" cy="1891.7" r="2.4"/>
<circle cx="1474.7" cy="1894.2" r="2.4"/>
<circle cx="1484.4" cy="1897.2" r="2.4"/>
<circle cx="1494.2" cy="1900.2" r="2.4"/>
<circle cx="1504.0" cy="1903.2" r="2.4"/>
<circle cx="1513.8" cy="1906.2" r="2.4"/>
<circle cx="1523.6" cy="1909.7" r="2.4"/>
<circle cx="1533.3" cy="1913.7" r="2.4"/>
<circle cx="1543.1" cy="1918.5" r="2.4"/>
<circle cx="1552.9" cy="1923.5" r="2.4"/>
<circle cx="1562.7" cy="1928.2" r="2.4"/>
<circle cx="1572.5" cy="1933.2" r="2.4"/>
<circle cx="1582.2" cy="1938.0" r="2.4"/>
<circle cx="1592.0" cy="1942.7" r="2.4"/>
<circle cx="1601.8" cy="1947.5" r="2.4"/>
<circle cx="1611.6" cy="1952.5" r="2.4"/>
<circle cx="1621.4" cy="1957.0" r="2.4"/>
<circle cx="1631.1" cy="1960.4" r="2.4"/>
<circle cx="1640.9" cy="1963.4" r="2.4"/>
<circle cx="1650.7" cy="1966.2" r="2.4"/>
<circle cx="1660.5" cy="1969.2" r="2.4"/>
<circle cx="1670.3" cy="1971.2" r="2.4"/>
<circle cx="1680.0" cy="1972.2" r="2.4"/>
<circle cx="1689.8" cy="1972.9" r="2.4"/>
<circle cx="1699.6" cy="1974.9" r="2.4"/>
<circle cx="1709.4" cy="1977.4" r="2.4"/>
<circle cx="1719.2" cy="1979.4" r="2.4"/>
<circle cx="1728.9" cy="1978.9" r="2.4"/>
<circle cx="1738.7" cy="1979.2" r="2.4"/>
<circle cx="1748.5" cy="1980.7" r="2.4"/>
<circle cx="1758.3" cy="1982.9" r="2.4"/>
<circle cx="1768.1" cy="1985.4" r="2.4"/>
<circle cx="1777.8" cy="1989.4" r="2.4"/>
<circle cx="1787.6" cy="1993.7" r="2.4"/>
<circle cx="1797.4" cy="1995.4" r="2.4"/>
<circle cx="1807.2" cy="1995.9" r="2.4"/>
<circle cx="1817.0" cy="1995.2" r="2.4"/>
<circle cx="1826.7" cy="1994.2" r="2.4"/>
<circle cx="1836.5" cy="1993.2" r="2.4"/>
<circle cx="1846.3" cy="1990.9" r="2.4"/>
<circle cx="1856.1" cy="1987.4" r="2.4"/>
<circle cx="1865.9" cy="1984.2" r="2.4"/>
</g>
<line x1="1807.2" y1="1679.7" x2="1807.2" y2="2179.1" stroke="#444" stroke-width="1.2" stroke-dasharray="5 2.6"/>
<line x1="1865.9" y1="1679.7" x2="1865.9" y2="2179.1" stroke="#444" stroke-width="1.2" stroke-dasharray="5 2.6"/>
<rect x="1082.8" y="1679.7" width="812.8" height="499.4" fill="none" stroke="#2a2a2a" stroke-width="1.3"/>
<g stroke="#2a2a2a" stroke-width="1.3">
<line x1="1106.2" y1="2179.1" x2="1106.2" y2="2187.1"/>
<line x1="1211.3" y1="2179.1" x2="1211.3" y2="2187.1"/>
<line x1="1316.5" y1="2179.1" x2="1316.5" y2="2187.1"/>
<line x1="1421.6" y1="2179.1" x2="1421.6" y2="2187.1"/>
<line x1="1526.7" y1="2179.1" x2="1526.7" y2="2187.1"/>
<line x1="1631.8" y1="2179.1" x2="1631.8" y2="2187.1"/>
<line x1="1737.0" y1="2179.1" x2="1737.0" y2="2187.1"/>
<line x1="1842.1" y1="2179.1" x2="1842.1" y2="2187.1"/>
<line x1="1082.8" y1="2174.2" x2="1074.8" y2="2174.2"/>
<line x1="1082.8" y1="2075.4" x2="1074.8" y2="2075.4"/>
<line x1="1082.8" y1="1976.6" x2="1074.8" y2="1976.6"/>
<line x1="1082.8" y1="1877.9" x2="1074.8" y2="1877.9"/>
<line x1="1082.8" y1="1779.1" x2="1074.8" y2="1779.1"/>
<line x1="1082.8" y1="1680.3" x2="1074.8" y2="1680.3"/>
</g>
<g font-family="'Liberation Sans', Arial, Helvetica, sans-serif" font-size="27" fill="#000" text-anchor="middle">
<text x="1103.8" y="2219.4">-9</text>
<text x="1209.7" y="2219.4">-8</text>
<text x="1315.7" y="2219.4">-7</text>
<text x="1421.6" y="2219.4">-6</text>
<text x="1527.5" y="2219.4">-5</text>
<text x="1633.4" y="2219.4">-4</text>
<text x="1739.4" y="2219.4">-3</text>
<text x="1845.3" y="2219.4">-2</text>
<text transform="translate(1072.3 2172.7) rotate(-90)">0.45</text>
<text transform="translate(1069.1 2073.9) rotate(-90)">0.50</text>
<text transform="translate(1068.0 1975.1) rotate(-90)">0.55</text>
<text transform="translate(1067.0 1876.4) rotate(-90)">0.60</text>
<text transform="translate(1065.5 1777.6) rotate(-90)">0.65</text>
<text transform="translate(1070.5 1678.8) rotate(-90)">0.70</text>
<text x="1488" y="2256.9" font-size="27.3">Log (λ)</text>
<text transform="translate(1015.5 1921.9) rotate(-90)" font-size="27.4">Mean Squared Error</text>
</g>
<g font-family="'Liberation Sans', Arial, Helvetica, sans-serif" font-size="12.6" fill="#000" text-anchor="middle">
<text x="1112.8" y="1660.8">24</text>
<text x="1142.1" y="1660.8">24</text>
<text x="1171.5" y="1660.8">24</text>
<text x="1200.8" y="1660.8">24</text>
<text x="1230.2" y="1660.8">24</text>
<text x="1259.5" y="1660.8">23</text>
<text x="1288.8" y="1660.8">23</text>
<text x="1318.2" y="1660.8">23</text>
<text x="1347.5" y="1660.8">23</text>
<text x="1376.9" y="1660.8">22</text>
<text x="1406.2" y="1660.8">21</text>
<text x="1435.5" y="1660.8">22</text>
<text x="1464.9" y="1660.8">21</text>
<text x="1494.2" y="1660.8">20</text>
<text x="1523.6" y="1660.8">18</text>
<text x="1552.9" y="1660.8">17</text>
<text x="1582.2" y="1660.8">17</text>
<text x="1611.6" y="1660.8">15</text>
<text x="1640.9" y="1660.8">15</text>
<text x="1670.3" y="1660.8">14</text>
<text x="1699.6" y="1660.8">12</text>
<text x="1728.9" y="1660.8">10</text>
<text x="1758.3" y="1660.8">8</text>
<text x="1777.8" y="1660.8">5</text>
<text x="1797.4" y="1660.8">4</text>
<text x="1817.0" y="1660.8">2</text>
<text x="1836.5" y="1660.8">2</text>
<text x="1856.1" y="1660.8">1</text>
</g></g>
</svg>
</body></html>
